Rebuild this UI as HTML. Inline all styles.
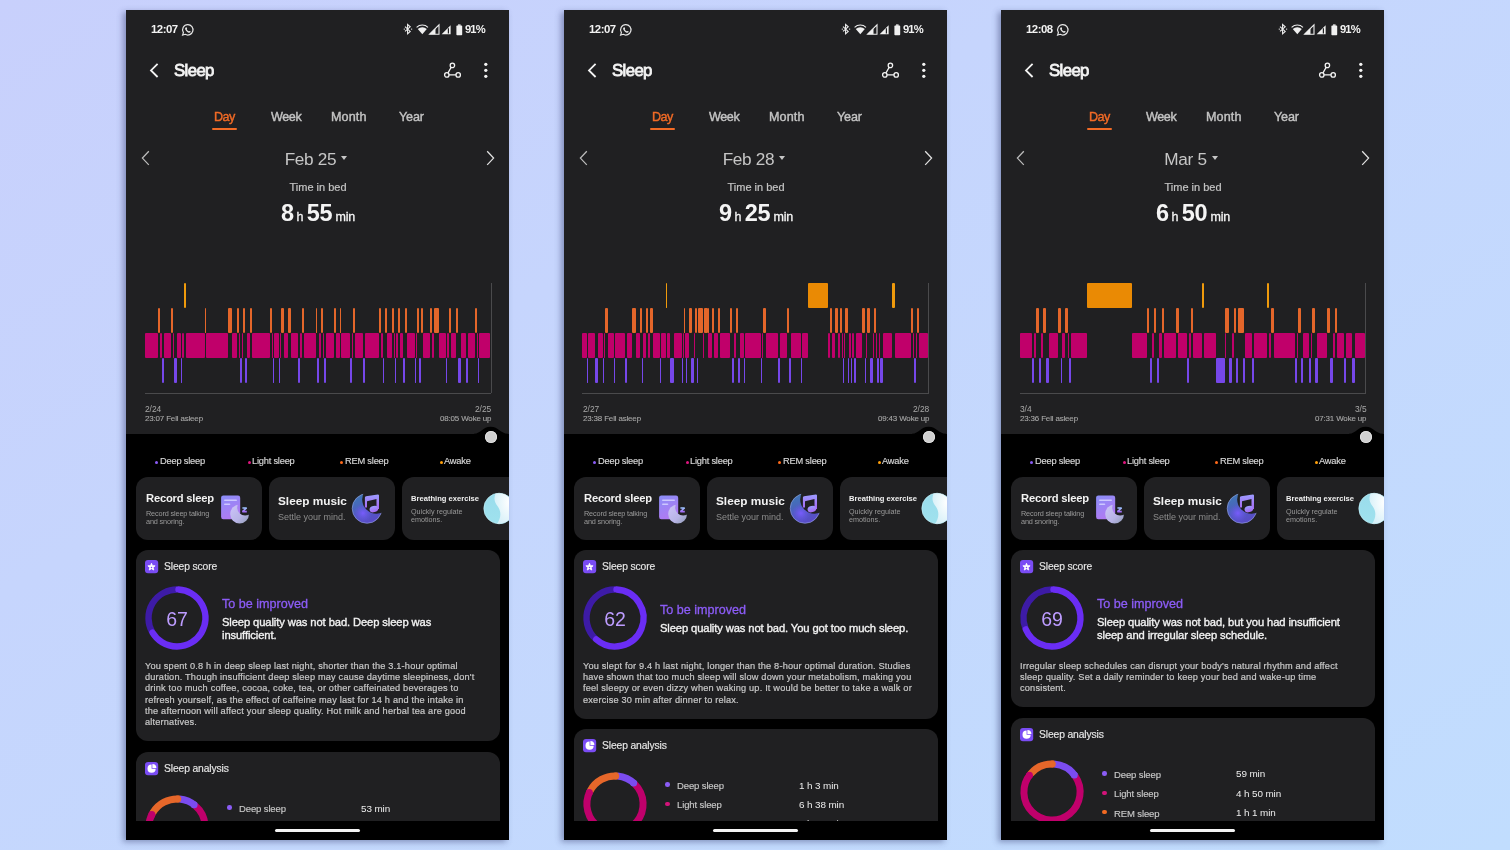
<!DOCTYPE html>
<html><head><meta charset="utf-8"><title>Sleep</title><style>
*{margin:0;padding:0;box-sizing:border-box}
html,body{width:1510px;height:850px;overflow:hidden}
body{background:linear-gradient(to bottom right,#c8d0fc 0%,#c6d5fd 35%,#c1ddfe 100%);font-family:"Liberation Sans",sans-serif;position:relative}
.ph{position:absolute;width:383px;height:830px;background:#000;overflow:hidden;box-shadow:-3px 2px 6px 0px rgba(50,60,110,0.45)}
.t{position:absolute;white-space:nowrap;will-change:transform}
.r{position:absolute}
.s{position:absolute;overflow:visible}
</style></head><body>
<div class="ph" style="left:126px;top:10px">
<div class="r" style="left:0.00px;top:0.00px;width:383.00px;height:423.70px;background:#202022;"></div>
<svg class="s" style="left:340.00px;top:410.00px;" width="43" height="16" viewBox="0 0 43 16"><path d="M8 13.75C15 13.75 16.5 6.8 24.6 6.8C32.7 6.8 34.2 13.75 42 13.75V16H8Z" fill="#000"/></svg>
<div class="t" style="left:24.50px;top:13.75px;font-size:11.4px;line-height:11.4px;color:#f2f2f2;font-weight:700;letter-spacing:-0.5px;">12:07</div>
<svg class="s" style="left:54.50px;top:12.50px;" width="14" height="14" viewBox="0 0 14 14"><path d="M6.8 1.6a5.2 5.2 0 1 1-2.6 9.7L1.6 12.1l0.8-2.5A5.2 5.2 0 0 1 6.8 1.6z" fill="none" stroke="#e8e8e8" stroke-width="1.2"/><path d="M4.7 4.6c0.3-0.4 0.8-0.4 1 0l0.4 0.9c0.1 0.3-0.3 0.6-0.4 0.8 0.4 0.9 1.1 1.6 2 2 0.2-0.2 0.5-0.5 0.8-0.4l0.9 0.4c0.4 0.2 0.4 0.7 0 1-0.6 0.6-1.5 0.6-2.4 0.1-1.1-0.6-2-1.5-2.6-2.6-0.4-0.8-0.4-1.7 0.3-2.2z" fill="#e8e8e8"/></svg>
<svg class="s" style="left:276.50px;top:13.00px;" width="10" height="12" viewBox="0 0 10 12"><path d="M2 3.6l5.2 4.8-2.6 2.4V1.4l2.6 2.4L2 8.4" fill="none" stroke="#f0f0f0" stroke-width="1.1"/><circle cx="1.3" cy="6.1" r="0.7" fill="#f0f0f0"/><circle cx="8.6" cy="6.1" r="0.7" fill="#f0f0f0"/></svg>
<svg class="s" style="left:289.50px;top:13.80px;" width="13" height="11" viewBox="0 0 13 11"><path d="M0.6 3.3A8.4 8.4 0 0 1 12.0 3.3" fill="none" stroke="#f0f0f0" stroke-width="1.1"/><path d="M1.8 4.9A6.8 6.8 0 0 1 10.8 4.9L6.3 10.3z" fill="#f0f0f0"/></svg>
<svg class="s" style="left:303.00px;top:13.80px;" width="11" height="11" viewBox="0 0 11 11"><path d="M0.6 10.2L10 0.8V10.2z" fill="none" stroke="#f0f0f0" stroke-width="1.1"/><path d="M0.6 10.2L6.5 4.3V10.2z" fill="#f0f0f0"/></svg>
<svg class="s" style="left:314.60px;top:13.80px;" width="11" height="11" viewBox="0 0 11 11"><path d="M0.6 10.2L9.6 1.2V10.2z" fill="#f0f0f0"/><path d="M7.4 4.2V9.4" stroke="#202022" stroke-width="1.2"/></svg>
<svg class="s" style="left:329.50px;top:13.60px;" width="7" height="12" viewBox="0 0 7 12"><rect x="2" y="0.4" width="2.6" height="1.4" fill="#f0f0f0"/><rect x="0.4" y="1.6" width="5.8" height="9.6" rx="0.8" fill="#f0f0f0"/></svg>
<div class="t" style="left:339.40px;top:14.12px;font-size:11.2px;line-height:11.2px;color:#f2f2f2;font-weight:700;letter-spacing:-0.9px;">91%</div>
<svg class="s" style="left:22.00px;top:52.00px;" width="13" height="17" viewBox="0 0 13 17"><path d="M9.6 1.8L3 8.4l6.6 6.6" fill="none" stroke="#f4f4f4" stroke-width="1.8"/></svg>
<div class="t" style="left:47.90px;top:53.38px;font-size:16.8px;line-height:16.8px;color:#f4f4f4;letter-spacing:-0.62px;-webkit-text-stroke:0.8px #f4f4f4;">Sleep</div>
<svg class="s" style="left:316.00px;top:51.00px;" width="20" height="18" viewBox="0 0 20 18"><circle cx="10.4" cy="4.4" r="2.2" fill="none" stroke="#f4f4f4" stroke-width="1.3"/><circle cx="4.8" cy="13.9" r="2.2" fill="none" stroke="#f4f4f4" stroke-width="1.3"/><circle cx="16.2" cy="13.9" r="2.2" fill="none" stroke="#f4f4f4" stroke-width="1.3"/><path d="M9.2 6.3L6 11.9M7 13.9H14" stroke="#f4f4f4" stroke-width="1.3"/></svg>
<svg class="s" style="left:356.00px;top:51.00px;" width="8" height="19" viewBox="0 0 8 19"><circle cx="3.8" cy="3.3" r="1.65" fill="#f4f4f4"/><circle cx="3.8" cy="9.3" r="1.65" fill="#f4f4f4"/><circle cx="3.8" cy="15.3" r="1.65" fill="#f4f4f4"/></svg>
<div class="t" style="left:88.40px;top:100.63px;font-size:12.6px;line-height:12.6px;color:#f26b26;letter-spacing:-0.5px;-webkit-text-stroke:0.4px #f26b26;">Day</div>
<div class="t" style="left:145.30px;top:100.63px;font-size:12.6px;line-height:12.6px;color:#c4c4c4;letter-spacing:-0.4px;-webkit-text-stroke:0.4px #c4c4c4;">Week</div>
<div class="t" style="left:204.50px;top:100.63px;font-size:12.6px;line-height:12.6px;color:#c4c4c4;letter-spacing:0.1px;-webkit-text-stroke:0.4px #c4c4c4;">Month</div>
<div class="t" style="left:272.50px;top:100.63px;font-size:12.6px;line-height:12.6px;color:#c4c4c4;letter-spacing:-0.15px;-webkit-text-stroke:0.4px #c4c4c4;">Year</div>
<div class="r" style="left:86.00px;top:118.30px;width:25.40px;height:2.00px;background:#f26b26;border-radius:1px"></div>
<svg class="s" style="left:13.00px;top:139.00px;" width="13" height="18" viewBox="0 0 13 18"><path d="M9.8 2.3L3.4 9.1l6.4 6.8" fill="none" stroke="#bdbdbd" stroke-width="1.25"/></svg>
<svg class="s" style="left:358.00px;top:139.00px;" width="13" height="18" viewBox="0 0 13 18"><path d="M3.2 2.3L9.6 9.1l-6.4 6.8" fill="none" stroke="#e2e2e2" stroke-width="1.25"/></svg>
<div class="t" style="left:90px;width:200px;top:141.04px;font-size:17.2px;line-height:17.2px;color:#c6c6c6;text-align:center;letter-spacing:-0.3px">Feb 25<span style="display:inline-block;width:0;height:0;border-left:3px solid transparent;border-right:3px solid transparent;border-top:4.2px solid #c6c6c6;margin-left:5px;vertical-align:4.6px"></span></div>
<div class="t" style="left:132.20px;width:120px;text-align:center;top:172.09px;font-size:11px;line-height:11px;color:#c4c4c4;-webkit-text-stroke:0.2px #c4c4c4;">Time in bed</div>
<div class="t" style="left:92px;width:200px;top:191.51px;font-size:23.5px;line-height:23.5px;color:#f4f4f4;text-align:center;font-weight:700;letter-spacing:-0.3px">8<span style="font-size:12.5px;font-weight:400;margin:0 3.2px 0 2.8px;letter-spacing:0;-webkit-text-stroke:0.3px #f4f4f4">h</span>55<span style="font-size:12.5px;font-weight:400;margin-left:3.2px;letter-spacing:-0.2px;-webkit-text-stroke:0.3px #f4f4f4">min</span></div>
<div class="t" style="left:18.90px;top:395.49px;font-size:8.4px;line-height:8.4px;color:#a8a8a8;letter-spacing:-0.05px;">2/24</div>
<div class="t" style="left:18.90px;top:405.17px;font-size:7.95px;line-height:7.95px;color:#a8a8a8;letter-spacing:-0.15px;-webkit-text-stroke:0.1px #a8a8a8;">23:07 Fell asleep</div>
<div class="t" style="right:17.80px;top:395.49px;font-size:8.4px;line-height:8.4px;color:#a8a8a8;text-align:right;letter-spacing:-0.05px;">2/25</div>
<div class="t" style="right:17.80px;top:405.17px;font-size:7.95px;line-height:7.95px;color:#a8a8a8;text-align:right;letter-spacing:-0.15px;-webkit-text-stroke:0.1px #a8a8a8;">08:05 Woke up</div>
<div class="r" style="left:18.90px;top:323.10px;width:13.25px;height:25.30px;background:#c0006a;border-radius:1px"></div>
<div class="r" style="left:33.65px;top:323.10px;width:2.30px;height:25.30px;background:#c0006a;border-radius:1px"></div>
<div class="r" style="left:38.25px;top:323.10px;width:6.50px;height:25.30px;background:#c0006a;border-radius:1px"></div>
<div class="r" style="left:46.65px;top:323.10px;width:1.70px;height:25.30px;background:#c0006a;border-radius:1px"></div>
<div class="r" style="left:50.95px;top:323.10px;width:4.10px;height:25.30px;background:#c0006a;border-radius:1px"></div>
<div class="r" style="left:56.25px;top:323.10px;width:1.80px;height:25.30px;background:#c0006a;border-radius:1px"></div>
<div class="r" style="left:59.95px;top:323.10px;width:18.70px;height:25.30px;background:#c0006a;border-radius:1px"></div>
<div class="r" style="left:80.25px;top:323.10px;width:21.60px;height:25.30px;background:#c0006a;border-radius:1px"></div>
<div class="r" style="left:105.95px;top:323.10px;width:5.10px;height:25.30px;background:#c0006a;border-radius:1px"></div>
<div class="r" style="left:113.05px;top:323.10px;width:1.20px;height:25.30px;background:#c0006a;border-radius:1px"></div>
<div class="r" style="left:116.15px;top:323.10px;width:1.20px;height:25.30px;background:#c0006a;border-radius:1px"></div>
<div class="r" style="left:121.05px;top:323.10px;width:2.70px;height:25.30px;background:#c0006a;border-radius:1px"></div>
<div class="r" style="left:125.75px;top:323.10px;width:18.20px;height:25.30px;background:#c0006a;border-radius:1px"></div>
<div class="r" style="left:145.75px;top:323.10px;width:0.85px;height:25.30px;background:#c0006a;border-radius:1px"></div>
<div class="r" style="left:147.60px;top:323.10px;width:5.05px;height:25.30px;background:#c0006a;border-radius:1px"></div>
<div class="r" style="left:153.95px;top:323.10px;width:1.50px;height:25.30px;background:#c0006a;border-radius:1px"></div>
<div class="r" style="left:157.75px;top:323.10px;width:4.10px;height:25.30px;background:#c0006a;border-radius:1px"></div>
<div class="r" style="left:164.95px;top:323.10px;width:7.10px;height:25.30px;background:#c0006a;border-radius:1px"></div>
<div class="r" style="left:173.75px;top:323.10px;width:2.20px;height:25.30px;background:#c0006a;border-radius:1px"></div>
<div class="r" style="left:177.65px;top:323.10px;width:12.00px;height:25.30px;background:#c0006a;border-radius:1px"></div>
<div class="r" style="left:193.15px;top:323.10px;width:1.90px;height:25.30px;background:#c0006a;border-radius:1px"></div>
<div class="r" style="left:196.95px;top:323.10px;width:0.90px;height:25.30px;background:#c0006a;border-radius:1px"></div>
<div class="r" style="left:199.75px;top:323.10px;width:8.00px;height:25.30px;background:#c0006a;border-radius:1px"></div>
<div class="r" style="left:210.05px;top:323.10px;width:3.60px;height:25.30px;background:#c0006a;border-radius:1px"></div>
<div class="r" style="left:215.25px;top:323.10px;width:9.00px;height:25.30px;background:#c0006a;border-radius:1px"></div>
<div class="r" style="left:225.95px;top:323.10px;width:1.10px;height:25.30px;background:#c0006a;border-radius:1px"></div>
<div class="r" style="left:228.85px;top:323.10px;width:8.50px;height:25.30px;background:#c0006a;border-radius:1px"></div>
<div class="r" style="left:238.95px;top:323.10px;width:13.90px;height:25.30px;background:#c0006a;border-radius:1px"></div>
<div class="r" style="left:254.75px;top:323.10px;width:1.90px;height:25.30px;background:#c0006a;border-radius:1px"></div>
<div class="r" style="left:261.25px;top:323.10px;width:4.60px;height:25.30px;background:#c0006a;border-radius:1px"></div>
<div class="r" style="left:267.85px;top:323.10px;width:1.45px;height:25.30px;background:#c0006a;border-radius:1px"></div>
<div class="r" style="left:270.30px;top:323.10px;width:1.85px;height:25.30px;background:#c0006a;border-radius:1px"></div>
<div class="r" style="left:274.35px;top:323.10px;width:2.50px;height:25.30px;background:#c0006a;border-radius:1px"></div>
<div class="r" style="left:280.55px;top:323.10px;width:8.30px;height:25.30px;background:#c0006a;border-radius:1px"></div>
<div class="r" style="left:289.95px;top:323.10px;width:1.00px;height:25.30px;background:#c0006a;border-radius:1px"></div>
<div class="r" style="left:296.95px;top:323.10px;width:7.40px;height:25.30px;background:#c0006a;border-radius:1px"></div>
<div class="r" style="left:306.35px;top:323.10px;width:1.50px;height:25.30px;background:#c0006a;border-radius:1px"></div>
<div class="r" style="left:313.05px;top:323.10px;width:6.60px;height:25.30px;background:#c0006a;border-radius:1px"></div>
<div class="r" style="left:321.45px;top:323.10px;width:2.00px;height:25.30px;background:#c0006a;border-radius:1px"></div>
<div class="r" style="left:325.15px;top:323.10px;width:4.90px;height:25.30px;background:#c0006a;border-radius:1px"></div>
<div class="r" style="left:334.65px;top:323.10px;width:5.30px;height:25.30px;background:#c0006a;border-radius:1px"></div>
<div class="r" style="left:341.85px;top:323.10px;width:7.40px;height:25.30px;background:#c0006a;border-radius:1px"></div>
<div class="r" style="left:351.15px;top:323.10px;width:0.50px;height:25.30px;background:#c0006a;border-radius:1px"></div>
<div class="r" style="left:352.95px;top:323.10px;width:11.55px;height:25.30px;background:#c0006a;border-radius:1px"></div>
<div class="r" style="left:32.10px;top:298.00px;width:1.60px;height:25.10px;background:#e4662a;border-radius:1px"></div>
<div class="r" style="left:35.90px;top:348.40px;width:2.40px;height:25.10px;background:#7647ea;border-radius:1px"></div>
<div class="r" style="left:44.70px;top:298.00px;width:2.00px;height:25.10px;background:#e4662a;border-radius:1px"></div>
<div class="r" style="left:48.30px;top:348.40px;width:2.70px;height:25.10px;background:#7647ea;border-radius:1px"></div>
<div class="r" style="left:55.00px;top:348.40px;width:1.30px;height:25.10px;background:#7647ea;border-radius:1px"></div>
<div class="r" style="left:58.00px;top:272.60px;width:2.00px;height:25.40px;background:#ef9a0c;border-radius:1px"></div>
<div class="r" style="left:78.60px;top:298.00px;width:1.70px;height:25.10px;background:#e4662a;border-radius:1px"></div>
<div class="r" style="left:101.80px;top:298.00px;width:4.20px;height:25.10px;background:#e4662a;border-radius:1px"></div>
<div class="r" style="left:111.00px;top:298.00px;width:2.10px;height:25.10px;background:#e4662a;border-radius:1px"></div>
<div class="r" style="left:114.20px;top:348.40px;width:2.00px;height:25.10px;background:#7647ea;border-radius:1px"></div>
<div class="r" style="left:117.30px;top:298.00px;width:1.90px;height:25.10px;background:#e4662a;border-radius:1px"></div>
<div class="r" style="left:119.20px;top:348.40px;width:1.90px;height:25.10px;background:#7647ea;border-radius:1px"></div>
<div class="r" style="left:123.70px;top:298.00px;width:2.10px;height:25.10px;background:#e4662a;border-radius:1px"></div>
<div class="r" style="left:143.90px;top:298.00px;width:1.90px;height:25.10px;background:#e4662a;border-radius:1px"></div>
<div class="r" style="left:146.60px;top:348.40px;width:1.00px;height:25.10px;background:#7647ea;border-radius:1px"></div>
<div class="r" style="left:152.60px;top:348.40px;width:1.40px;height:25.10px;background:#7647ea;border-radius:1px"></div>
<div class="r" style="left:155.40px;top:298.00px;width:2.40px;height:25.10px;background:#e4662a;border-radius:1px"></div>
<div class="r" style="left:161.80px;top:298.00px;width:3.20px;height:25.10px;background:#e4662a;border-radius:1px"></div>
<div class="r" style="left:172.00px;top:348.40px;width:1.80px;height:25.10px;background:#7647ea;border-radius:1px"></div>
<div class="r" style="left:175.90px;top:298.00px;width:1.80px;height:25.10px;background:#e4662a;border-radius:1px"></div>
<div class="r" style="left:189.60px;top:298.00px;width:1.20px;height:25.10px;background:#e4662a;border-radius:1px"></div>
<div class="r" style="left:191.00px;top:348.40px;width:2.20px;height:25.10px;background:#7647ea;border-radius:1px"></div>
<div class="r" style="left:195.00px;top:298.00px;width:2.00px;height:25.10px;background:#e4662a;border-radius:1px"></div>
<div class="r" style="left:197.80px;top:348.40px;width:2.00px;height:25.10px;background:#7647ea;border-radius:1px"></div>
<div class="r" style="left:207.70px;top:298.00px;width:2.40px;height:25.10px;background:#e4662a;border-radius:1px"></div>
<div class="r" style="left:213.60px;top:298.00px;width:1.70px;height:25.10px;background:#e4662a;border-radius:1px"></div>
<div class="r" style="left:224.20px;top:348.40px;width:1.80px;height:25.10px;background:#7647ea;border-radius:1px"></div>
<div class="r" style="left:227.00px;top:298.00px;width:1.90px;height:25.10px;background:#e4662a;border-radius:1px"></div>
<div class="r" style="left:237.30px;top:348.40px;width:1.70px;height:25.10px;background:#7647ea;border-radius:1px"></div>
<div class="r" style="left:252.80px;top:298.00px;width:2.00px;height:25.10px;background:#e4662a;border-radius:1px"></div>
<div class="r" style="left:256.60px;top:348.40px;width:1.90px;height:25.10px;background:#7647ea;border-radius:1px"></div>
<div class="r" style="left:258.50px;top:298.00px;width:2.80px;height:25.10px;background:#e4662a;border-radius:1px"></div>
<div class="r" style="left:265.80px;top:298.00px;width:2.10px;height:25.10px;background:#e4662a;border-radius:1px"></div>
<div class="r" style="left:269.30px;top:348.40px;width:1.00px;height:25.10px;background:#7647ea;border-radius:1px"></div>
<div class="r" style="left:272.10px;top:298.00px;width:2.30px;height:25.10px;background:#e4662a;border-radius:1px"></div>
<div class="r" style="left:276.80px;top:348.40px;width:1.80px;height:25.10px;background:#7647ea;border-radius:1px"></div>
<div class="r" style="left:278.60px;top:298.00px;width:2.00px;height:25.10px;background:#e4662a;border-radius:1px"></div>
<div class="r" style="left:288.80px;top:348.40px;width:1.20px;height:25.10px;background:#7647ea;border-radius:1px"></div>
<div class="r" style="left:290.90px;top:298.00px;width:2.10px;height:25.10px;background:#e4662a;border-radius:1px"></div>
<div class="r" style="left:293.00px;top:348.40px;width:2.10px;height:25.10px;background:#7647ea;border-radius:1px"></div>
<div class="r" style="left:295.10px;top:298.00px;width:1.90px;height:25.10px;background:#e4662a;border-radius:1px"></div>
<div class="r" style="left:304.30px;top:298.00px;width:2.10px;height:25.10px;background:#e4662a;border-radius:1px"></div>
<div class="r" style="left:307.80px;top:298.00px;width:5.30px;height:25.10px;background:#e4662a;border-radius:1px"></div>
<div class="r" style="left:319.60px;top:348.40px;width:1.90px;height:25.10px;background:#7647ea;border-radius:1px"></div>
<div class="r" style="left:323.40px;top:298.00px;width:1.80px;height:25.10px;background:#e4662a;border-radius:1px"></div>
<div class="r" style="left:330.00px;top:298.00px;width:2.00px;height:25.10px;background:#e4662a;border-radius:1px"></div>
<div class="r" style="left:332.00px;top:348.40px;width:2.70px;height:25.10px;background:#7647ea;border-radius:1px"></div>
<div class="r" style="left:339.90px;top:348.40px;width:2.00px;height:25.10px;background:#7647ea;border-radius:1px"></div>
<div class="r" style="left:349.20px;top:298.00px;width:2.00px;height:25.10px;background:#e4662a;border-radius:1px"></div>
<div class="r" style="left:351.60px;top:348.40px;width:1.40px;height:25.10px;background:#7647ea;border-radius:1px"></div>
<div class="r" style="left:18.90px;top:382.60px;width:346.10px;height:1.00px;background:#4a4a4c;"></div>
<div class="r" style="left:364.50px;top:272.60px;width:1.00px;height:110.50px;background:#4a4a4c;"></div>
<div class="r" style="left:358.80px;top:420.60px;width:12.2px;height:12.2px;border-radius:50%;background:#d0d0d0;box-shadow:inset 0 0 0 0.8px #e4e4e4"></div>
<div class="r" style="left:29.30px;top:451.30px;width:3.2px;height:3.2px;border-radius:50%;background:#8b5cf6"></div>
<div class="t" style="left:33.80px;top:446.83px;font-size:9.3px;line-height:9.3px;color:#d8d8d8;letter-spacing:-0.22px;-webkit-text-stroke:0.15px #d8d8d8;">Deep sleep</div>
<div class="r" style="left:121.60px;top:451.30px;width:3.2px;height:3.2px;border-radius:50%;background:#e0157f"></div>
<div class="t" style="left:126.00px;top:446.83px;font-size:9.3px;line-height:9.3px;color:#d8d8d8;letter-spacing:-0.22px;-webkit-text-stroke:0.15px #d8d8d8;">Light sleep</div>
<div class="r" style="left:214.00px;top:451.30px;width:3.2px;height:3.2px;border-radius:50%;background:#ff6a1a"></div>
<div class="t" style="left:218.50px;top:446.83px;font-size:9.3px;line-height:9.3px;color:#d8d8d8;letter-spacing:-0.22px;-webkit-text-stroke:0.15px #d8d8d8;">REM sleep</div>
<div class="r" style="left:313.80px;top:451.30px;width:3.2px;height:3.2px;border-radius:50%;background:#ffa00a"></div>
<div class="t" style="left:318.00px;top:446.83px;font-size:9.3px;line-height:9.3px;color:#d8d8d8;letter-spacing:-0.22px;-webkit-text-stroke:0.15px #d8d8d8;">Awake</div>
<div class="r" style="left:9.90px;top:467.00px;width:126.00px;height:62.70px;background:#202022;border-radius:12px"></div>
<div class="r" style="left:142.90px;top:467.00px;width:126.00px;height:62.70px;background:#202022;border-radius:12px"></div>
<div class="r" style="left:275.60px;top:467.00px;width:126.00px;height:62.70px;background:#202022;border-radius:12px"></div>
<div class="t" style="left:19.60px;top:483.32px;font-size:11.2px;line-height:11.2px;color:#f2f2f2;font-weight:700;letter-spacing:-0.2px;">Record sleep</div>
<div class="t" style="left:19.60px;top:499.72px;font-size:7.3px;line-height:7.3px;color:#9a9a9a;letter-spacing:-0.15px;">Record sleep talking</div>
<div class="t" style="left:19.60px;top:507.92px;font-size:7.3px;line-height:7.3px;color:#9a9a9a;letter-spacing:-0.15px;">and snoring.</div>
<svg class="s" style="left:93.00px;top:483.00px;" width="32" height="32" viewBox="0 0 32 32"><defs><linearGradient id="nb" x1="0" y1="0" x2="0.4" y2="1"><stop offset="0" stop-color="#8a8ef8"/><stop offset="1" stop-color="#b07af2"/></linearGradient><linearGradient id="mn" x1="0" y1="0" x2="1" y2="1"><stop offset="0" stop-color="#cdc4fa"/><stop offset="0.6" stop-color="#b8b4e6"/><stop offset="1" stop-color="#8f9cb4"/></linearGradient><linearGradient id="zz" x1="0" y1="0" x2="0" y2="1"><stop offset="0" stop-color="#9cc4ff"/><stop offset="1" stop-color="#a46cf6"/></linearGradient><mask id="mcut"><rect width="32" height="32" fill="#fff"/><circle cx="26.2" cy="14.6" r="8" fill="#000"/></mask></defs><rect x="2.1" y="2.5" width="19.1" height="23.7" rx="2.2" fill="url(#nb)"/><rect x="5" y="6.4" width="13" height="1.6" rx="0.8" fill="#cdc8ff"/><rect x="5" y="10.4" width="6.3" height="1.6" rx="0.8" fill="#cdc8ff"/><circle cx="20.6" cy="21" r="9.4" fill="url(#mn)" mask="url(#mcut)"/><path d="M23.4 15H27.6L23.4 18.6H27.8" fill="none" stroke="url(#zz)" stroke-width="1.6" stroke-linejoin="bevel"/></svg>
<div class="t" style="left:152.20px;top:485.61px;font-size:11.8px;line-height:11.8px;color:#f2f2f2;font-weight:700;letter-spacing:0px;">Sleep music</div>
<div class="t" style="left:152.20px;top:502.98px;font-size:9.0px;line-height:9.0px;color:#8c8c8c;">Settle your mind.</div>
<svg class="s" style="left:224.00px;top:482.00px;" width="34" height="34" viewBox="0 0 34 34"><defs><linearGradient id="mgl" x1="0.2" y1="0" x2="0.6" y2="1"><stop offset="0" stop-color="#3d7ab4"/><stop offset="0.55" stop-color="#4f5cc0"/><stop offset="1" stop-color="#5a4ac8"/></linearGradient><radialGradient id="mg" cx="0.36" cy="0.66" r="0.32"><stop offset="0" stop-color="#7a5cff" stop-opacity="0.95"/><stop offset="1" stop-color="#6a54e8" stop-opacity="0"/></radialGradient><linearGradient id="nt" x1="0" y1="0" x2="0" y2="1"><stop offset="0" stop-color="#9c9cff"/><stop offset="1" stop-color="#a866f2"/></linearGradient><mask id="mcut2"><rect width="34" height="34" fill="#fff"/><circle cx="26.6" cy="7.4" r="14.4" fill="#000"/></mask></defs><g mask="url(#mcut2)"><circle cx="17" cy="16.5" r="14.8" fill="url(#mgl)" stroke="#9aa8e8" stroke-width="0.6"/><circle cx="17" cy="16.5" r="14.5" fill="url(#mg)"/></g><path d="M14.9 5.6Q14.9 4.6 16 4.3L27.8 2.4Q29 2.3 29 3.4V17h-2.5V6.9L17 9.2V15.5H14.9Z" fill="url(#nt)"/><ellipse cx="23.9" cy="17.1" rx="4.4" ry="3.1" transform="rotate(-15 23.9 17.1)" fill="url(#nt)"/></svg>
<div class="t" style="left:284.70px;top:485.07px;font-size:7.6px;line-height:7.6px;color:#f0f0f0;font-weight:700;letter-spacing:0px;">Breathing exercise</div>
<div class="t" style="left:284.70px;top:497.71px;font-size:7.2px;line-height:7.2px;color:#999999;">Quickly regulate</div>
<div class="t" style="left:284.70px;top:505.51px;font-size:7.2px;line-height:7.2px;color:#999999;">emotions.</div>
<svg class="s" style="left:357.00px;top:481.50px;" width="32" height="33" viewBox="0 0 32 33"><defs><linearGradient id="bg3" x1="0" y1="0" x2="0" y2="1"><stop offset="0" stop-color="#9adcec"/><stop offset="1" stop-color="#9fe2ee"/></linearGradient><radialGradient id="wh" cx="0.75" cy="0.3" r="0.8"><stop offset="0" stop-color="#ffffff"/><stop offset="1" stop-color="#d6f0f8"/></radialGradient></defs><circle cx="16.1" cy="16.5" r="15.3" fill="url(#bg3)" stroke="#c8f4fc" stroke-width="0.6"/><path d="M12.5 1.5C10.5 7 11.5 10.5 14.8 14.6C18.4 19.2 18.2 26 14 31.7A15.3 15.3 0 1 0 12.5 1.5Z" fill="url(#wh)"/></svg>
<div class="r" style="left:10.00px;top:539.60px;width:364.00px;height:191.70px;background:#202022;border-radius:12px"></div>
<svg class="s" style="left:19.20px;top:550.00px;" width="13.2" height="13.2" viewBox="0 0 13.2 13.2"><rect x="0" y="0" width="13.2" height="13.2" rx="3" fill="#7a4cf4"/><g transform="translate(6.5 7.0) scale(0.86)"><path d="M0 -4.3L1.15 -1.5L4.2 -1.35L1.85 0.6L2.65 3.55L0 1.9L-2.65 3.55L-1.85 0.6L-4.2 -1.35L-1.15 -1.5Z" fill="#fff" stroke="#fff" stroke-width="1.0" stroke-linejoin="round"/><circle cx="0" cy="0.5" r="0.9" fill="#7a4cf4"/></g></svg>
<div class="t" style="left:38.40px;top:551.88px;font-size:10.3px;line-height:10.3px;color:#e6e6e6;letter-spacing:-0.12px;-webkit-text-stroke:0.15px #e6e6e6;">Sleep score</div>
<svg class="s" style="left:18.10px;top:575.40px;" width="66" height="66" viewBox="0 0 66 66"><path d="M8.03 46.73A28.5 28.5 0 0 1 33.00 4.50" fill="none" stroke="#3d1ba6" stroke-width="6.4"/><path d="M34.49 4.54A28.5 28.5 0 1 1 8.52 47.59" fill="none" stroke="#6a2df4" stroke-width="6.4" stroke-linecap="round"/></svg>
<div class="t" style="left:26.10px;width:50px;text-align:center;top:599.69px;font-size:19.5px;line-height:19.5px;color:#bd9cff;">67</div>
<div class="t" style="left:95.80px;top:587.83px;font-size:12.6px;line-height:12.6px;color:#8c5cf7;letter-spacing:0.0px;-webkit-text-stroke:0.3px #8c5cf7;">To be improved</div>
<div class="t" style="left:95.80px;top:607.12px;font-size:11.2px;line-height:11.2px;color:#f2f2f2;letter-spacing:-0.1px;-webkit-text-stroke:0.35px #f2f2f2;">Sleep quality was not bad. Deep sleep was</div>
<div class="t" style="left:95.80px;top:620.22px;font-size:11.2px;line-height:11.2px;color:#f2f2f2;letter-spacing:-0.1px;-webkit-text-stroke:0.35px #f2f2f2;">insufficient.</div>
<div class="t" style="left:19.40px;top:652.01px;font-size:9.2px;line-height:9.2px;color:#c8c8c8;letter-spacing:0.19px;-webkit-text-stroke:0.2px #c8c8c8;">You spent 0.8 h in deep sleep last night, shorter than the 3.1-hour optimal</div>
<div class="t" style="left:19.40px;top:663.25px;font-size:9.2px;line-height:9.2px;color:#c8c8c8;letter-spacing:0.19px;-webkit-text-stroke:0.2px #c8c8c8;">duration. Though insufficient deep sleep may cause daytime sleepiness, don't</div>
<div class="t" style="left:19.40px;top:674.49px;font-size:9.2px;line-height:9.2px;color:#c8c8c8;letter-spacing:0.19px;-webkit-text-stroke:0.2px #c8c8c8;">drink too much coffee, cocoa, coke, tea, or other caffeinated beverages to</div>
<div class="t" style="left:19.40px;top:685.73px;font-size:9.2px;line-height:9.2px;color:#c8c8c8;letter-spacing:0.19px;-webkit-text-stroke:0.2px #c8c8c8;">refresh yourself, as the effect of caffeine may last for 14 h and the intake in</div>
<div class="t" style="left:19.40px;top:696.97px;font-size:9.2px;line-height:9.2px;color:#c8c8c8;letter-spacing:0.19px;-webkit-text-stroke:0.2px #c8c8c8;">the afternoon will affect your sleep quality. Hot milk and herbal tea are good</div>
<div class="t" style="left:19.40px;top:708.21px;font-size:9.2px;line-height:9.2px;color:#c8c8c8;letter-spacing:0.19px;-webkit-text-stroke:0.2px #c8c8c8;">alternatives.</div>
<div class="r" style="left:10.00px;top:741.90px;width:364.00px;height:120.00px;background:#202022;border-radius:12px"></div>
<svg class="s" style="left:19.20px;top:752.20px;" width="13.2" height="13.2" viewBox="0 0 13.2 13.2"><rect x="0" y="0" width="13.2" height="13.2" rx="3" fill="#7a4cf4"/><path d="M6.6 2.6A4.1 4.1 0 1 0 10.7 6.7H6.6Z" fill="#fff"/><path d="M7.4 1.9A4.1 4.1 0 0 1 11.4 5.9H7.4Z" fill="#fff"/></svg>
<div class="t" style="left:38.30px;top:753.78px;font-size:10.3px;line-height:10.3px;color:#e6e6e6;letter-spacing:-0.12px;-webkit-text-stroke:0.15px #e6e6e6;">Sleep analysis</div>
<svg class="s" style="left:17.90px;top:783.50px;" width="66" height="66" viewBox="0 0 66 66"><path d="M35.45 5.01A28.1 28.1 0 0 1 51.44 11.79" fill="none" stroke="#7b4cf0" stroke-width="7"/><path d="M51.44 11.79A28.1 28.1 0 1 1 8.66 18.95" fill="none" stroke="#c0006b" stroke-width="7"/><path d="M8.66 18.95A28.1 28.1 0 0 1 35.45 5.01" fill="none" stroke="#e6672a" stroke-width="7"/><circle cx="50.11" cy="10.71" r="3.5" fill="#7b4cf0"/><circle cx="7.85" cy="20.46" r="3.5" fill="#c0006b"/><circle cx="33.74" cy="4.91" r="3.5" fill="#e6672a"/></svg>
<div class="r" style="left:101.40px;top:795.20px;width:4.6px;height:4.6px;border-radius:50%;background:#8b5cf6"></div>
<div class="t" style="left:112.50px;top:793.86px;font-size:9.5px;line-height:9.5px;color:#c8c8c8;letter-spacing:-0.12px;-webkit-text-stroke:0.15px #c8c8c8;">Deep sleep</div>
<div class="t" style="left:235.30px;top:793.52px;font-size:9.9px;line-height:9.9px;color:#ececec;letter-spacing:-0.1px;">53 min</div>
<div class="r" style="left:101.40px;top:814.60px;width:4.6px;height:4.6px;border-radius:50%;background:#d4137a"></div>
<div class="t" style="left:112.50px;top:813.26px;font-size:9.5px;line-height:9.5px;color:#c8c8c8;letter-spacing:-0.12px;-webkit-text-stroke:0.15px #c8c8c8;">Light sleep</div>
<div class="t" style="left:235.30px;top:812.92px;font-size:9.9px;line-height:9.9px;color:#ececec;letter-spacing:-0.1px;">5 h 42 min</div>
<div class="r" style="left:101.40px;top:834.00px;width:4.6px;height:4.6px;border-radius:50%;background:#f26a22"></div>
<div class="t" style="left:112.50px;top:832.66px;font-size:9.5px;line-height:9.5px;color:#c8c8c8;letter-spacing:-0.12px;-webkit-text-stroke:0.15px #c8c8c8;">REM sleep</div>
<div class="t" style="left:235.30px;top:832.32px;font-size:9.9px;line-height:9.9px;color:#ececec;letter-spacing:-0.1px;">1 h 48 min</div>
<div class="r" style="left:0.00px;top:810.60px;width:383.00px;height:19.40px;background:#000;"></div>
<div class="r" style="left:149.30px;top:819.40px;width:85.00px;height:2.90px;background:#f4f4f4;border-radius:1.5px"></div>
</div>
<div class="ph" style="left:564px;top:10px">
<div class="r" style="left:0.00px;top:0.00px;width:383.00px;height:423.70px;background:#202022;"></div>
<svg class="s" style="left:340.00px;top:410.00px;" width="43" height="16" viewBox="0 0 43 16"><path d="M8 13.75C15 13.75 16.5 6.8 24.6 6.8C32.7 6.8 34.2 13.75 42 13.75V16H8Z" fill="#000"/></svg>
<div class="t" style="left:24.50px;top:13.75px;font-size:11.4px;line-height:11.4px;color:#f2f2f2;font-weight:700;letter-spacing:-0.5px;">12:07</div>
<svg class="s" style="left:54.50px;top:12.50px;" width="14" height="14" viewBox="0 0 14 14"><path d="M6.8 1.6a5.2 5.2 0 1 1-2.6 9.7L1.6 12.1l0.8-2.5A5.2 5.2 0 0 1 6.8 1.6z" fill="none" stroke="#e8e8e8" stroke-width="1.2"/><path d="M4.7 4.6c0.3-0.4 0.8-0.4 1 0l0.4 0.9c0.1 0.3-0.3 0.6-0.4 0.8 0.4 0.9 1.1 1.6 2 2 0.2-0.2 0.5-0.5 0.8-0.4l0.9 0.4c0.4 0.2 0.4 0.7 0 1-0.6 0.6-1.5 0.6-2.4 0.1-1.1-0.6-2-1.5-2.6-2.6-0.4-0.8-0.4-1.7 0.3-2.2z" fill="#e8e8e8"/></svg>
<svg class="s" style="left:276.50px;top:13.00px;" width="10" height="12" viewBox="0 0 10 12"><path d="M2 3.6l5.2 4.8-2.6 2.4V1.4l2.6 2.4L2 8.4" fill="none" stroke="#f0f0f0" stroke-width="1.1"/><circle cx="1.3" cy="6.1" r="0.7" fill="#f0f0f0"/><circle cx="8.6" cy="6.1" r="0.7" fill="#f0f0f0"/></svg>
<svg class="s" style="left:289.50px;top:13.80px;" width="13" height="11" viewBox="0 0 13 11"><path d="M0.6 3.3A8.4 8.4 0 0 1 12.0 3.3" fill="none" stroke="#f0f0f0" stroke-width="1.1"/><path d="M1.8 4.9A6.8 6.8 0 0 1 10.8 4.9L6.3 10.3z" fill="#f0f0f0"/></svg>
<svg class="s" style="left:303.00px;top:13.80px;" width="11" height="11" viewBox="0 0 11 11"><path d="M0.6 10.2L10 0.8V10.2z" fill="none" stroke="#f0f0f0" stroke-width="1.1"/><path d="M0.6 10.2L6.5 4.3V10.2z" fill="#f0f0f0"/></svg>
<svg class="s" style="left:314.60px;top:13.80px;" width="11" height="11" viewBox="0 0 11 11"><path d="M0.6 10.2L9.6 1.2V10.2z" fill="#f0f0f0"/><path d="M7.4 4.2V9.4" stroke="#202022" stroke-width="1.2"/></svg>
<svg class="s" style="left:329.50px;top:13.60px;" width="7" height="12" viewBox="0 0 7 12"><rect x="2" y="0.4" width="2.6" height="1.4" fill="#f0f0f0"/><rect x="0.4" y="1.6" width="5.8" height="9.6" rx="0.8" fill="#f0f0f0"/></svg>
<div class="t" style="left:339.40px;top:14.12px;font-size:11.2px;line-height:11.2px;color:#f2f2f2;font-weight:700;letter-spacing:-0.9px;">91%</div>
<svg class="s" style="left:22.00px;top:52.00px;" width="13" height="17" viewBox="0 0 13 17"><path d="M9.6 1.8L3 8.4l6.6 6.6" fill="none" stroke="#f4f4f4" stroke-width="1.8"/></svg>
<div class="t" style="left:47.90px;top:53.38px;font-size:16.8px;line-height:16.8px;color:#f4f4f4;letter-spacing:-0.62px;-webkit-text-stroke:0.8px #f4f4f4;">Sleep</div>
<svg class="s" style="left:316.00px;top:51.00px;" width="20" height="18" viewBox="0 0 20 18"><circle cx="10.4" cy="4.4" r="2.2" fill="none" stroke="#f4f4f4" stroke-width="1.3"/><circle cx="4.8" cy="13.9" r="2.2" fill="none" stroke="#f4f4f4" stroke-width="1.3"/><circle cx="16.2" cy="13.9" r="2.2" fill="none" stroke="#f4f4f4" stroke-width="1.3"/><path d="M9.2 6.3L6 11.9M7 13.9H14" stroke="#f4f4f4" stroke-width="1.3"/></svg>
<svg class="s" style="left:356.00px;top:51.00px;" width="8" height="19" viewBox="0 0 8 19"><circle cx="3.8" cy="3.3" r="1.65" fill="#f4f4f4"/><circle cx="3.8" cy="9.3" r="1.65" fill="#f4f4f4"/><circle cx="3.8" cy="15.3" r="1.65" fill="#f4f4f4"/></svg>
<div class="t" style="left:88.40px;top:100.63px;font-size:12.6px;line-height:12.6px;color:#f26b26;letter-spacing:-0.5px;-webkit-text-stroke:0.4px #f26b26;">Day</div>
<div class="t" style="left:145.30px;top:100.63px;font-size:12.6px;line-height:12.6px;color:#c4c4c4;letter-spacing:-0.4px;-webkit-text-stroke:0.4px #c4c4c4;">Week</div>
<div class="t" style="left:204.50px;top:100.63px;font-size:12.6px;line-height:12.6px;color:#c4c4c4;letter-spacing:0.1px;-webkit-text-stroke:0.4px #c4c4c4;">Month</div>
<div class="t" style="left:272.50px;top:100.63px;font-size:12.6px;line-height:12.6px;color:#c4c4c4;letter-spacing:-0.15px;-webkit-text-stroke:0.4px #c4c4c4;">Year</div>
<div class="r" style="left:86.00px;top:118.30px;width:25.40px;height:2.00px;background:#f26b26;border-radius:1px"></div>
<svg class="s" style="left:13.00px;top:139.00px;" width="13" height="18" viewBox="0 0 13 18"><path d="M9.8 2.3L3.4 9.1l6.4 6.8" fill="none" stroke="#bdbdbd" stroke-width="1.25"/></svg>
<svg class="s" style="left:358.00px;top:139.00px;" width="13" height="18" viewBox="0 0 13 18"><path d="M3.2 2.3L9.6 9.1l-6.4 6.8" fill="none" stroke="#e2e2e2" stroke-width="1.25"/></svg>
<div class="t" style="left:90px;width:200px;top:141.04px;font-size:17.2px;line-height:17.2px;color:#c6c6c6;text-align:center;letter-spacing:-0.3px">Feb 28<span style="display:inline-block;width:0;height:0;border-left:3px solid transparent;border-right:3px solid transparent;border-top:4.2px solid #c6c6c6;margin-left:5px;vertical-align:4.6px"></span></div>
<div class="t" style="left:132.20px;width:120px;text-align:center;top:172.09px;font-size:11px;line-height:11px;color:#c4c4c4;-webkit-text-stroke:0.2px #c4c4c4;">Time in bed</div>
<div class="t" style="left:92px;width:200px;top:191.51px;font-size:23.5px;line-height:23.5px;color:#f4f4f4;text-align:center;font-weight:700;letter-spacing:-0.3px">9<span style="font-size:12.5px;font-weight:400;margin:0 3.2px 0 2.8px;letter-spacing:0;-webkit-text-stroke:0.3px #f4f4f4">h</span>25<span style="font-size:12.5px;font-weight:400;margin-left:3.2px;letter-spacing:-0.2px;-webkit-text-stroke:0.3px #f4f4f4">min</span></div>
<div class="t" style="left:18.90px;top:395.49px;font-size:8.4px;line-height:8.4px;color:#a8a8a8;letter-spacing:-0.05px;">2/27</div>
<div class="t" style="left:18.90px;top:405.17px;font-size:7.95px;line-height:7.95px;color:#a8a8a8;letter-spacing:-0.15px;-webkit-text-stroke:0.1px #a8a8a8;">23:38 Fell asleep</div>
<div class="t" style="right:17.80px;top:395.49px;font-size:8.4px;line-height:8.4px;color:#a8a8a8;text-align:right;letter-spacing:-0.05px;">2/28</div>
<div class="t" style="right:17.80px;top:405.17px;font-size:7.95px;line-height:7.95px;color:#a8a8a8;text-align:right;letter-spacing:-0.15px;-webkit-text-stroke:0.1px #a8a8a8;">09:43 Woke up</div>
<div class="r" style="left:18.30px;top:323.10px;width:4.85px;height:25.30px;background:#c0006a;border-radius:1px"></div>
<div class="r" style="left:24.25px;top:323.10px;width:6.80px;height:25.30px;background:#c0006a;border-radius:1px"></div>
<div class="r" style="left:33.75px;top:323.10px;width:4.80px;height:25.30px;background:#c0006a;border-radius:1px"></div>
<div class="r" style="left:40.15px;top:323.10px;width:0.80px;height:25.30px;background:#c0006a;border-radius:1px"></div>
<div class="r" style="left:44.05px;top:323.10px;width:5.80px;height:25.30px;background:#c0006a;border-radius:1px"></div>
<div class="r" style="left:51.15px;top:323.10px;width:10.00px;height:25.30px;background:#c0006a;border-radius:1px"></div>
<div class="r" style="left:63.15px;top:323.10px;width:5.00px;height:25.30px;background:#c0006a;border-radius:1px"></div>
<div class="r" style="left:72.35px;top:323.10px;width:3.90px;height:25.30px;background:#c0006a;border-radius:1px"></div>
<div class="r" style="left:79.40px;top:323.10px;width:2.45px;height:25.30px;background:#c0006a;border-radius:1px"></div>
<div class="r" style="left:84.05px;top:323.10px;width:1.50px;height:25.30px;background:#c0006a;border-radius:1px"></div>
<div class="r" style="left:89.35px;top:323.10px;width:6.30px;height:25.30px;background:#c0006a;border-radius:1px"></div>
<div class="r" style="left:96.95px;top:323.10px;width:5.00px;height:25.30px;background:#c0006a;border-radius:1px"></div>
<div class="r" style="left:102.95px;top:323.10px;width:3.30px;height:25.30px;background:#c0006a;border-radius:1px"></div>
<div class="r" style="left:110.05px;top:323.10px;width:7.90px;height:25.30px;background:#c0006a;border-radius:1px"></div>
<div class="r" style="left:119.25px;top:323.10px;width:0.40px;height:25.30px;background:#c0006a;border-radius:1px"></div>
<div class="r" style="left:121.15px;top:323.10px;width:4.20px;height:25.30px;background:#c0006a;border-radius:1px"></div>
<div class="r" style="left:129.75px;top:323.10px;width:1.40px;height:25.30px;background:#c0006a;border-radius:1px"></div>
<div class="r" style="left:138.75px;top:323.10px;width:1.40px;height:25.30px;background:#c0006a;border-radius:1px"></div>
<div class="r" style="left:143.95px;top:323.10px;width:3.90px;height:25.30px;background:#c0006a;border-radius:1px"></div>
<div class="r" style="left:149.95px;top:323.10px;width:4.00px;height:25.30px;background:#c0006a;border-radius:1px"></div>
<div class="r" style="left:155.95px;top:323.10px;width:9.90px;height:25.30px;background:#c0006a;border-radius:1px"></div>
<div class="r" style="left:169.55px;top:323.10px;width:2.00px;height:25.30px;background:#c0006a;border-radius:1px"></div>
<div class="r" style="left:175.65px;top:323.10px;width:4.30px;height:25.30px;background:#c0006a;border-radius:1px"></div>
<div class="r" style="left:180.95px;top:323.10px;width:15.90px;height:25.30px;background:#c0006a;border-radius:1px"></div>
<div class="r" style="left:198.15px;top:323.10px;width:0.90px;height:25.30px;background:#c0006a;border-radius:1px"></div>
<div class="r" style="left:202.15px;top:323.10px;width:11.60px;height:25.30px;background:#c0006a;border-radius:1px"></div>
<div class="r" style="left:215.55px;top:323.10px;width:7.50px;height:25.30px;background:#c0006a;border-radius:1px"></div>
<div class="r" style="left:226.75px;top:323.10px;width:10.00px;height:25.30px;background:#c0006a;border-radius:1px"></div>
<div class="r" style="left:238.05px;top:323.10px;width:6.00px;height:25.30px;background:#c0006a;border-radius:1px"></div>
<div class="r" style="left:263.95px;top:323.10px;width:2.10px;height:25.30px;background:#c0006a;border-radius:1px"></div>
<div class="r" style="left:268.15px;top:323.10px;width:2.80px;height:25.30px;background:#c0006a;border-radius:1px"></div>
<div class="r" style="left:274.15px;top:323.10px;width:1.50px;height:25.30px;background:#c0006a;border-radius:1px"></div>
<div class="r" style="left:277.55px;top:323.10px;width:1.20px;height:25.30px;background:#c0006a;border-radius:1px"></div>
<div class="r" style="left:280.05px;top:323.10px;width:0.80px;height:25.30px;background:#c0006a;border-radius:1px"></div>
<div class="r" style="left:285.45px;top:323.10px;width:1.45px;height:25.30px;background:#c0006a;border-radius:1px"></div>
<div class="r" style="left:287.90px;top:323.10px;width:1.85px;height:25.30px;background:#c0006a;border-radius:1px"></div>
<div class="r" style="left:292.05px;top:323.10px;width:5.80px;height:25.30px;background:#c0006a;border-radius:1px"></div>
<div class="r" style="left:302.00px;top:323.10px;width:1.05px;height:25.30px;background:#c0006a;border-radius:1px"></div>
<div class="r" style="left:308.95px;top:323.10px;width:0.80px;height:25.30px;background:#c0006a;border-radius:1px"></div>
<div class="r" style="left:312.25px;top:323.10px;width:0.40px;height:25.30px;background:#c0006a;border-radius:1px"></div>
<div class="r" style="left:314.65px;top:323.10px;width:1.10px;height:25.30px;background:#c0006a;border-radius:1px"></div>
<div class="r" style="left:319.25px;top:323.10px;width:8.60px;height:25.30px;background:#c0006a;border-radius:1px"></div>
<div class="r" style="left:330.85px;top:323.10px;width:16.30px;height:25.30px;background:#c0006a;border-radius:1px"></div>
<div class="r" style="left:349.25px;top:323.10px;width:0.80px;height:25.30px;background:#c0006a;border-radius:1px"></div>
<div class="r" style="left:352.05px;top:323.10px;width:0.80px;height:25.30px;background:#c0006a;border-radius:1px"></div>
<div class="r" style="left:355.15px;top:323.10px;width:8.95px;height:25.30px;background:#c0006a;border-radius:1px"></div>
<div class="r" style="left:23.10px;top:348.40px;width:1.20px;height:25.10px;background:#7647ea;border-radius:1px"></div>
<div class="r" style="left:31.00px;top:348.40px;width:2.80px;height:25.10px;background:#7647ea;border-radius:1px"></div>
<div class="r" style="left:38.50px;top:348.40px;width:1.70px;height:25.10px;background:#7647ea;border-radius:1px"></div>
<div class="r" style="left:40.90px;top:298.00px;width:3.20px;height:25.10px;background:#e4662a;border-radius:1px"></div>
<div class="r" style="left:49.80px;top:348.40px;width:1.40px;height:25.10px;background:#7647ea;border-radius:1px"></div>
<div class="r" style="left:61.10px;top:348.40px;width:2.10px;height:25.10px;background:#7647ea;border-radius:1px"></div>
<div class="r" style="left:68.10px;top:298.00px;width:4.30px;height:25.10px;background:#e4662a;border-radius:1px"></div>
<div class="r" style="left:76.20px;top:298.00px;width:2.20px;height:25.10px;background:#e4662a;border-radius:1px"></div>
<div class="r" style="left:78.40px;top:348.40px;width:1.00px;height:25.10px;background:#7647ea;border-radius:1px"></div>
<div class="r" style="left:81.80px;top:298.00px;width:2.30px;height:25.10px;background:#e4662a;border-radius:1px"></div>
<div class="r" style="left:85.50px;top:298.00px;width:3.90px;height:25.10px;background:#e4662a;border-radius:1px"></div>
<div class="r" style="left:95.60px;top:348.40px;width:1.40px;height:25.10px;background:#7647ea;border-radius:1px"></div>
<div class="r" style="left:101.90px;top:272.60px;width:1.10px;height:25.40px;background:#ef9a0c;border-radius:1px"></div>
<div class="r" style="left:106.20px;top:348.40px;width:3.90px;height:25.10px;background:#7647ea;border-radius:1px"></div>
<div class="r" style="left:117.90px;top:348.40px;width:1.40px;height:25.10px;background:#7647ea;border-radius:1px"></div>
<div class="r" style="left:119.60px;top:298.00px;width:1.60px;height:25.10px;background:#e4662a;border-radius:1px"></div>
<div class="r" style="left:121.80px;top:348.40px;width:1.40px;height:25.10px;background:#7647ea;border-radius:1px"></div>
<div class="r" style="left:125.30px;top:298.00px;width:2.60px;height:25.10px;background:#e4662a;border-radius:1px"></div>
<div class="r" style="left:127.40px;top:348.40px;width:2.40px;height:25.10px;background:#7647ea;border-radius:1px"></div>
<div class="r" style="left:131.10px;top:298.00px;width:2.10px;height:25.10px;background:#e4662a;border-radius:1px"></div>
<div class="r" style="left:132.70px;top:348.40px;width:1.80px;height:25.10px;background:#7647ea;border-radius:1px"></div>
<div class="r" style="left:134.10px;top:298.00px;width:4.70px;height:25.10px;background:#e4662a;border-radius:1px"></div>
<div class="r" style="left:140.10px;top:298.00px;width:3.90px;height:25.10px;background:#e4662a;border-radius:1px"></div>
<div class="r" style="left:144.00px;top:298.00px;width:0.70px;height:25.10px;background:#e4662a;border-radius:1px"></div>
<div class="r" style="left:147.80px;top:298.00px;width:2.20px;height:25.10px;background:#e4662a;border-radius:1px"></div>
<div class="r" style="left:153.90px;top:298.00px;width:2.10px;height:25.10px;background:#e4662a;border-radius:1px"></div>
<div class="r" style="left:165.80px;top:298.00px;width:2.10px;height:25.10px;background:#e4662a;border-radius:1px"></div>
<div class="r" style="left:167.90px;top:348.40px;width:1.70px;height:25.10px;background:#7647ea;border-radius:1px"></div>
<div class="r" style="left:171.50px;top:298.00px;width:2.10px;height:25.10px;background:#e4662a;border-radius:1px"></div>
<div class="r" style="left:173.60px;top:348.40px;width:2.10px;height:25.10px;background:#7647ea;border-radius:1px"></div>
<div class="r" style="left:179.90px;top:348.40px;width:1.10px;height:25.10px;background:#7647ea;border-radius:1px"></div>
<div class="r" style="left:196.80px;top:348.40px;width:1.40px;height:25.10px;background:#7647ea;border-radius:1px"></div>
<div class="r" style="left:199.00px;top:298.00px;width:3.20px;height:25.10px;background:#e4662a;border-radius:1px"></div>
<div class="r" style="left:213.70px;top:348.40px;width:1.90px;height:25.10px;background:#7647ea;border-radius:1px"></div>
<div class="r" style="left:223.00px;top:298.00px;width:2.00px;height:25.10px;background:#e4662a;border-radius:1px"></div>
<div class="r" style="left:225.00px;top:348.40px;width:1.80px;height:25.10px;background:#7647ea;border-radius:1px"></div>
<div class="r" style="left:236.70px;top:348.40px;width:1.40px;height:25.10px;background:#7647ea;border-radius:1px"></div>
<div class="r" style="left:244.00px;top:272.60px;width:20.00px;height:25.40px;background:#ea8a04;border-radius:1px"></div>
<div class="r" style="left:266.00px;top:298.00px;width:2.20px;height:25.10px;background:#e4662a;border-radius:1px"></div>
<div class="r" style="left:270.90px;top:298.00px;width:3.30px;height:25.10px;background:#e4662a;border-radius:1px"></div>
<div class="r" style="left:275.60px;top:298.00px;width:2.00px;height:25.10px;background:#e4662a;border-radius:1px"></div>
<div class="r" style="left:278.70px;top:348.40px;width:1.40px;height:25.10px;background:#7647ea;border-radius:1px"></div>
<div class="r" style="left:280.80px;top:298.00px;width:3.30px;height:25.10px;background:#e4662a;border-radius:1px"></div>
<div class="r" style="left:284.10px;top:348.40px;width:1.40px;height:25.10px;background:#7647ea;border-radius:1px"></div>
<div class="r" style="left:286.90px;top:348.40px;width:1.00px;height:25.10px;background:#7647ea;border-radius:1px"></div>
<div class="r" style="left:289.70px;top:348.40px;width:2.40px;height:25.10px;background:#7647ea;border-radius:1px"></div>
<div class="r" style="left:297.80px;top:298.00px;width:3.20px;height:25.10px;background:#e4662a;border-radius:1px"></div>
<div class="r" style="left:301.00px;top:348.40px;width:1.00px;height:25.10px;background:#7647ea;border-radius:1px"></div>
<div class="r" style="left:303.00px;top:298.00px;width:3.20px;height:25.10px;background:#e4662a;border-radius:1px"></div>
<div class="r" style="left:306.20px;top:348.40px;width:2.80px;height:25.10px;background:#7647ea;border-radius:1px"></div>
<div class="r" style="left:309.70px;top:298.00px;width:2.60px;height:25.10px;background:#e4662a;border-radius:1px"></div>
<div class="r" style="left:312.60px;top:348.40px;width:2.10px;height:25.10px;background:#7647ea;border-radius:1px"></div>
<div class="r" style="left:315.70px;top:348.40px;width:3.60px;height:25.10px;background:#7647ea;border-radius:1px"></div>
<div class="r" style="left:327.80px;top:272.60px;width:3.10px;height:25.40px;background:#ef9a0c;border-radius:1px"></div>
<div class="r" style="left:347.10px;top:298.00px;width:2.20px;height:25.10px;background:#e4662a;border-radius:1px"></div>
<div class="r" style="left:350.00px;top:348.40px;width:2.10px;height:25.10px;background:#7647ea;border-radius:1px"></div>
<div class="r" style="left:352.80px;top:298.00px;width:2.40px;height:25.10px;background:#e4662a;border-radius:1px"></div>
<div class="r" style="left:18.30px;top:382.60px;width:346.30px;height:1.00px;background:#4a4a4c;"></div>
<div class="r" style="left:364.10px;top:272.60px;width:1.00px;height:110.50px;background:#4a4a4c;"></div>
<div class="r" style="left:358.80px;top:420.60px;width:12.2px;height:12.2px;border-radius:50%;background:#d0d0d0;box-shadow:inset 0 0 0 0.8px #e4e4e4"></div>
<div class="r" style="left:29.30px;top:451.30px;width:3.2px;height:3.2px;border-radius:50%;background:#8b5cf6"></div>
<div class="t" style="left:33.80px;top:446.83px;font-size:9.3px;line-height:9.3px;color:#d8d8d8;letter-spacing:-0.22px;-webkit-text-stroke:0.15px #d8d8d8;">Deep sleep</div>
<div class="r" style="left:121.60px;top:451.30px;width:3.2px;height:3.2px;border-radius:50%;background:#e0157f"></div>
<div class="t" style="left:126.00px;top:446.83px;font-size:9.3px;line-height:9.3px;color:#d8d8d8;letter-spacing:-0.22px;-webkit-text-stroke:0.15px #d8d8d8;">Light sleep</div>
<div class="r" style="left:214.00px;top:451.30px;width:3.2px;height:3.2px;border-radius:50%;background:#ff6a1a"></div>
<div class="t" style="left:218.50px;top:446.83px;font-size:9.3px;line-height:9.3px;color:#d8d8d8;letter-spacing:-0.22px;-webkit-text-stroke:0.15px #d8d8d8;">REM sleep</div>
<div class="r" style="left:313.80px;top:451.30px;width:3.2px;height:3.2px;border-radius:50%;background:#ffa00a"></div>
<div class="t" style="left:318.00px;top:446.83px;font-size:9.3px;line-height:9.3px;color:#d8d8d8;letter-spacing:-0.22px;-webkit-text-stroke:0.15px #d8d8d8;">Awake</div>
<div class="r" style="left:9.90px;top:467.00px;width:126.00px;height:62.70px;background:#202022;border-radius:12px"></div>
<div class="r" style="left:142.90px;top:467.00px;width:126.00px;height:62.70px;background:#202022;border-radius:12px"></div>
<div class="r" style="left:275.60px;top:467.00px;width:126.00px;height:62.70px;background:#202022;border-radius:12px"></div>
<div class="t" style="left:19.60px;top:483.32px;font-size:11.2px;line-height:11.2px;color:#f2f2f2;font-weight:700;letter-spacing:-0.2px;">Record sleep</div>
<div class="t" style="left:19.60px;top:499.72px;font-size:7.3px;line-height:7.3px;color:#9a9a9a;letter-spacing:-0.15px;">Record sleep talking</div>
<div class="t" style="left:19.60px;top:507.92px;font-size:7.3px;line-height:7.3px;color:#9a9a9a;letter-spacing:-0.15px;">and snoring.</div>
<svg class="s" style="left:93.00px;top:483.00px;" width="32" height="32" viewBox="0 0 32 32"><defs><linearGradient id="nb" x1="0" y1="0" x2="0.4" y2="1"><stop offset="0" stop-color="#8a8ef8"/><stop offset="1" stop-color="#b07af2"/></linearGradient><linearGradient id="mn" x1="0" y1="0" x2="1" y2="1"><stop offset="0" stop-color="#cdc4fa"/><stop offset="0.6" stop-color="#b8b4e6"/><stop offset="1" stop-color="#8f9cb4"/></linearGradient><linearGradient id="zz" x1="0" y1="0" x2="0" y2="1"><stop offset="0" stop-color="#9cc4ff"/><stop offset="1" stop-color="#a46cf6"/></linearGradient><mask id="mcut"><rect width="32" height="32" fill="#fff"/><circle cx="26.2" cy="14.6" r="8" fill="#000"/></mask></defs><rect x="2.1" y="2.5" width="19.1" height="23.7" rx="2.2" fill="url(#nb)"/><rect x="5" y="6.4" width="13" height="1.6" rx="0.8" fill="#cdc8ff"/><rect x="5" y="10.4" width="6.3" height="1.6" rx="0.8" fill="#cdc8ff"/><circle cx="20.6" cy="21" r="9.4" fill="url(#mn)" mask="url(#mcut)"/><path d="M23.4 15H27.6L23.4 18.6H27.8" fill="none" stroke="url(#zz)" stroke-width="1.6" stroke-linejoin="bevel"/></svg>
<div class="t" style="left:152.20px;top:485.61px;font-size:11.8px;line-height:11.8px;color:#f2f2f2;font-weight:700;letter-spacing:0px;">Sleep music</div>
<div class="t" style="left:152.20px;top:502.98px;font-size:9.0px;line-height:9.0px;color:#8c8c8c;">Settle your mind.</div>
<svg class="s" style="left:224.00px;top:482.00px;" width="34" height="34" viewBox="0 0 34 34"><defs><linearGradient id="mgl" x1="0.2" y1="0" x2="0.6" y2="1"><stop offset="0" stop-color="#3d7ab4"/><stop offset="0.55" stop-color="#4f5cc0"/><stop offset="1" stop-color="#5a4ac8"/></linearGradient><radialGradient id="mg" cx="0.36" cy="0.66" r="0.32"><stop offset="0" stop-color="#7a5cff" stop-opacity="0.95"/><stop offset="1" stop-color="#6a54e8" stop-opacity="0"/></radialGradient><linearGradient id="nt" x1="0" y1="0" x2="0" y2="1"><stop offset="0" stop-color="#9c9cff"/><stop offset="1" stop-color="#a866f2"/></linearGradient><mask id="mcut2"><rect width="34" height="34" fill="#fff"/><circle cx="26.6" cy="7.4" r="14.4" fill="#000"/></mask></defs><g mask="url(#mcut2)"><circle cx="17" cy="16.5" r="14.8" fill="url(#mgl)" stroke="#9aa8e8" stroke-width="0.6"/><circle cx="17" cy="16.5" r="14.5" fill="url(#mg)"/></g><path d="M14.9 5.6Q14.9 4.6 16 4.3L27.8 2.4Q29 2.3 29 3.4V17h-2.5V6.9L17 9.2V15.5H14.9Z" fill="url(#nt)"/><ellipse cx="23.9" cy="17.1" rx="4.4" ry="3.1" transform="rotate(-15 23.9 17.1)" fill="url(#nt)"/></svg>
<div class="t" style="left:284.70px;top:485.07px;font-size:7.6px;line-height:7.6px;color:#f0f0f0;font-weight:700;letter-spacing:0px;">Breathing exercise</div>
<div class="t" style="left:284.70px;top:497.71px;font-size:7.2px;line-height:7.2px;color:#999999;">Quickly regulate</div>
<div class="t" style="left:284.70px;top:505.51px;font-size:7.2px;line-height:7.2px;color:#999999;">emotions.</div>
<svg class="s" style="left:357.00px;top:481.50px;" width="32" height="33" viewBox="0 0 32 33"><defs><linearGradient id="bg3" x1="0" y1="0" x2="0" y2="1"><stop offset="0" stop-color="#9adcec"/><stop offset="1" stop-color="#9fe2ee"/></linearGradient><radialGradient id="wh" cx="0.75" cy="0.3" r="0.8"><stop offset="0" stop-color="#ffffff"/><stop offset="1" stop-color="#d6f0f8"/></radialGradient></defs><circle cx="16.1" cy="16.5" r="15.3" fill="url(#bg3)" stroke="#c8f4fc" stroke-width="0.6"/><path d="M12.5 1.5C10.5 7 11.5 10.5 14.8 14.6C18.4 19.2 18.2 26 14 31.7A15.3 15.3 0 1 0 12.5 1.5Z" fill="url(#wh)"/></svg>
<div class="r" style="left:10.00px;top:539.60px;width:364.00px;height:169.60px;background:#202022;border-radius:12px"></div>
<svg class="s" style="left:19.20px;top:550.00px;" width="13.2" height="13.2" viewBox="0 0 13.2 13.2"><rect x="0" y="0" width="13.2" height="13.2" rx="3" fill="#7a4cf4"/><g transform="translate(6.5 7.0) scale(0.86)"><path d="M0 -4.3L1.15 -1.5L4.2 -1.35L1.85 0.6L2.65 3.55L0 1.9L-2.65 3.55L-1.85 0.6L-4.2 -1.35L-1.15 -1.5Z" fill="#fff" stroke="#fff" stroke-width="1.0" stroke-linejoin="round"/><circle cx="0" cy="0.5" r="0.9" fill="#7a4cf4"/></g></svg>
<div class="t" style="left:38.40px;top:551.88px;font-size:10.3px;line-height:10.3px;color:#e6e6e6;letter-spacing:-0.12px;-webkit-text-stroke:0.15px #e6e6e6;">Sleep score</div>
<svg class="s" style="left:18.10px;top:575.40px;" width="66" height="66" viewBox="0 0 66 66"><path d="M13.49 53.78A28.5 28.5 0 0 1 33.00 4.50" fill="none" stroke="#3d1ba6" stroke-width="6.4"/><path d="M34.49 4.54A28.5 28.5 0 1 1 14.23 54.44" fill="none" stroke="#6a2df4" stroke-width="6.4" stroke-linecap="round"/></svg>
<div class="t" style="left:26.10px;width:50px;text-align:center;top:599.69px;font-size:19.5px;line-height:19.5px;color:#bd9cff;">62</div>
<div class="t" style="left:95.80px;top:594.13px;font-size:12.6px;line-height:12.6px;color:#8c5cf7;letter-spacing:0.0px;-webkit-text-stroke:0.3px #8c5cf7;">To be improved</div>
<div class="t" style="left:95.80px;top:613.02px;font-size:11.2px;line-height:11.2px;color:#f2f2f2;letter-spacing:-0.1px;-webkit-text-stroke:0.35px #f2f2f2;">Sleep quality was not bad. You got too much sleep.</div>
<div class="t" style="left:19.40px;top:652.01px;font-size:9.2px;line-height:9.2px;color:#c8c8c8;letter-spacing:0.19px;-webkit-text-stroke:0.2px #c8c8c8;">You slept for 9.4 h last night, longer than the 8-hour optimal duration. Studies</div>
<div class="t" style="left:19.40px;top:663.25px;font-size:9.2px;line-height:9.2px;color:#c8c8c8;letter-spacing:0.19px;-webkit-text-stroke:0.2px #c8c8c8;">have shown that too much sleep will slow down your metabolism, making you</div>
<div class="t" style="left:19.40px;top:674.49px;font-size:9.2px;line-height:9.2px;color:#c8c8c8;letter-spacing:0.19px;-webkit-text-stroke:0.2px #c8c8c8;">feel sleepy or even dizzy when waking up. It would be better to take a walk or</div>
<div class="t" style="left:19.40px;top:685.73px;font-size:9.2px;line-height:9.2px;color:#c8c8c8;letter-spacing:0.19px;-webkit-text-stroke:0.2px #c8c8c8;">exercise 30 min after dinner to relax.</div>
<div class="r" style="left:10.00px;top:719.00px;width:364.00px;height:120.00px;background:#202022;border-radius:12px"></div>
<svg class="s" style="left:19.20px;top:729.30px;" width="13.2" height="13.2" viewBox="0 0 13.2 13.2"><rect x="0" y="0" width="13.2" height="13.2" rx="3" fill="#7a4cf4"/><path d="M6.6 2.6A4.1 4.1 0 1 0 10.7 6.7H6.6Z" fill="#fff"/><path d="M7.4 1.9A4.1 4.1 0 0 1 11.4 5.9H7.4Z" fill="#fff"/></svg>
<div class="t" style="left:38.30px;top:730.88px;font-size:10.3px;line-height:10.3px;color:#e6e6e6;letter-spacing:-0.12px;-webkit-text-stroke:0.15px #e6e6e6;">Sleep analysis</div>
<svg class="s" style="left:17.90px;top:760.60px;" width="66" height="66" viewBox="0 0 66 66"><path d="M35.45 5.01A28.1 28.1 0 0 1 52.87 13.13" fill="none" stroke="#7b4cf0" stroke-width="7"/><path d="M52.87 13.13A28.1 28.1 0 1 1 8.07 20.02" fill="none" stroke="#c0006b" stroke-width="7"/><path d="M8.07 20.02A28.1 28.1 0 0 1 35.45 5.01" fill="none" stroke="#e6672a" stroke-width="7"/><circle cx="51.62" cy="11.95" r="3.5" fill="#7b4cf0"/><circle cx="7.33" cy="21.57" r="3.5" fill="#c0006b"/><circle cx="33.74" cy="4.91" r="3.5" fill="#e6672a"/></svg>
<div class="r" style="left:101.40px;top:772.30px;width:4.6px;height:4.6px;border-radius:50%;background:#8b5cf6"></div>
<div class="t" style="left:112.50px;top:770.96px;font-size:9.5px;line-height:9.5px;color:#c8c8c8;letter-spacing:-0.12px;-webkit-text-stroke:0.15px #c8c8c8;">Deep sleep</div>
<div class="t" style="left:235.30px;top:770.62px;font-size:9.9px;line-height:9.9px;color:#ececec;letter-spacing:-0.1px;">1 h 3 min</div>
<div class="r" style="left:101.40px;top:791.70px;width:4.6px;height:4.6px;border-radius:50%;background:#d4137a"></div>
<div class="t" style="left:112.50px;top:790.36px;font-size:9.5px;line-height:9.5px;color:#c8c8c8;letter-spacing:-0.12px;-webkit-text-stroke:0.15px #c8c8c8;">Light sleep</div>
<div class="t" style="left:235.30px;top:790.02px;font-size:9.9px;line-height:9.9px;color:#ececec;letter-spacing:-0.1px;">6 h 38 min</div>
<div class="r" style="left:101.40px;top:811.10px;width:4.6px;height:4.6px;border-radius:50%;background:#f26a22"></div>
<div class="t" style="left:112.50px;top:809.76px;font-size:9.5px;line-height:9.5px;color:#c8c8c8;letter-spacing:-0.12px;-webkit-text-stroke:0.15px #c8c8c8;">REM sleep</div>
<div class="t" style="left:235.30px;top:809.42px;font-size:9.9px;line-height:9.9px;color:#ececec;letter-spacing:-0.1px;">1 h 44 min</div>
<div class="r" style="left:0.00px;top:810.60px;width:383.00px;height:19.40px;background:#000;"></div>
<div class="r" style="left:149.30px;top:819.40px;width:85.00px;height:2.90px;background:#f4f4f4;border-radius:1.5px"></div>
</div>
<div class="ph" style="left:1001px;top:10px">
<div class="r" style="left:0.00px;top:0.00px;width:383.00px;height:423.70px;background:#202022;"></div>
<svg class="s" style="left:340.00px;top:410.00px;" width="43" height="16" viewBox="0 0 43 16"><path d="M8 13.75C15 13.75 16.5 6.8 24.6 6.8C32.7 6.8 34.2 13.75 42 13.75V16H8Z" fill="#000"/></svg>
<div class="t" style="left:24.50px;top:13.75px;font-size:11.4px;line-height:11.4px;color:#f2f2f2;font-weight:700;letter-spacing:-0.5px;">12:08</div>
<svg class="s" style="left:54.50px;top:12.50px;" width="14" height="14" viewBox="0 0 14 14"><path d="M6.8 1.6a5.2 5.2 0 1 1-2.6 9.7L1.6 12.1l0.8-2.5A5.2 5.2 0 0 1 6.8 1.6z" fill="none" stroke="#e8e8e8" stroke-width="1.2"/><path d="M4.7 4.6c0.3-0.4 0.8-0.4 1 0l0.4 0.9c0.1 0.3-0.3 0.6-0.4 0.8 0.4 0.9 1.1 1.6 2 2 0.2-0.2 0.5-0.5 0.8-0.4l0.9 0.4c0.4 0.2 0.4 0.7 0 1-0.6 0.6-1.5 0.6-2.4 0.1-1.1-0.6-2-1.5-2.6-2.6-0.4-0.8-0.4-1.7 0.3-2.2z" fill="#e8e8e8"/></svg>
<svg class="s" style="left:276.50px;top:13.00px;" width="10" height="12" viewBox="0 0 10 12"><path d="M2 3.6l5.2 4.8-2.6 2.4V1.4l2.6 2.4L2 8.4" fill="none" stroke="#f0f0f0" stroke-width="1.1"/><circle cx="1.3" cy="6.1" r="0.7" fill="#f0f0f0"/><circle cx="8.6" cy="6.1" r="0.7" fill="#f0f0f0"/></svg>
<svg class="s" style="left:289.50px;top:13.80px;" width="13" height="11" viewBox="0 0 13 11"><path d="M0.6 3.3A8.4 8.4 0 0 1 12.0 3.3" fill="none" stroke="#f0f0f0" stroke-width="1.1"/><path d="M1.8 4.9A6.8 6.8 0 0 1 10.8 4.9L6.3 10.3z" fill="#f0f0f0"/></svg>
<svg class="s" style="left:303.00px;top:13.80px;" width="11" height="11" viewBox="0 0 11 11"><path d="M0.6 10.2L10 0.8V10.2z" fill="none" stroke="#f0f0f0" stroke-width="1.1"/><path d="M0.6 10.2L6.5 4.3V10.2z" fill="#f0f0f0"/></svg>
<svg class="s" style="left:314.60px;top:13.80px;" width="11" height="11" viewBox="0 0 11 11"><path d="M0.6 10.2L9.6 1.2V10.2z" fill="#f0f0f0"/><path d="M7.4 4.2V9.4" stroke="#202022" stroke-width="1.2"/></svg>
<svg class="s" style="left:329.50px;top:13.60px;" width="7" height="12" viewBox="0 0 7 12"><rect x="2" y="0.4" width="2.6" height="1.4" fill="#f0f0f0"/><rect x="0.4" y="1.6" width="5.8" height="9.6" rx="0.8" fill="#f0f0f0"/></svg>
<div class="t" style="left:339.40px;top:14.12px;font-size:11.2px;line-height:11.2px;color:#f2f2f2;font-weight:700;letter-spacing:-0.9px;">91%</div>
<svg class="s" style="left:22.00px;top:52.00px;" width="13" height="17" viewBox="0 0 13 17"><path d="M9.6 1.8L3 8.4l6.6 6.6" fill="none" stroke="#f4f4f4" stroke-width="1.8"/></svg>
<div class="t" style="left:47.90px;top:53.38px;font-size:16.8px;line-height:16.8px;color:#f4f4f4;letter-spacing:-0.62px;-webkit-text-stroke:0.8px #f4f4f4;">Sleep</div>
<svg class="s" style="left:316.00px;top:51.00px;" width="20" height="18" viewBox="0 0 20 18"><circle cx="10.4" cy="4.4" r="2.2" fill="none" stroke="#f4f4f4" stroke-width="1.3"/><circle cx="4.8" cy="13.9" r="2.2" fill="none" stroke="#f4f4f4" stroke-width="1.3"/><circle cx="16.2" cy="13.9" r="2.2" fill="none" stroke="#f4f4f4" stroke-width="1.3"/><path d="M9.2 6.3L6 11.9M7 13.9H14" stroke="#f4f4f4" stroke-width="1.3"/></svg>
<svg class="s" style="left:356.00px;top:51.00px;" width="8" height="19" viewBox="0 0 8 19"><circle cx="3.8" cy="3.3" r="1.65" fill="#f4f4f4"/><circle cx="3.8" cy="9.3" r="1.65" fill="#f4f4f4"/><circle cx="3.8" cy="15.3" r="1.65" fill="#f4f4f4"/></svg>
<div class="t" style="left:88.40px;top:100.63px;font-size:12.6px;line-height:12.6px;color:#f26b26;letter-spacing:-0.5px;-webkit-text-stroke:0.4px #f26b26;">Day</div>
<div class="t" style="left:145.30px;top:100.63px;font-size:12.6px;line-height:12.6px;color:#c4c4c4;letter-spacing:-0.4px;-webkit-text-stroke:0.4px #c4c4c4;">Week</div>
<div class="t" style="left:204.50px;top:100.63px;font-size:12.6px;line-height:12.6px;color:#c4c4c4;letter-spacing:0.1px;-webkit-text-stroke:0.4px #c4c4c4;">Month</div>
<div class="t" style="left:272.50px;top:100.63px;font-size:12.6px;line-height:12.6px;color:#c4c4c4;letter-spacing:-0.15px;-webkit-text-stroke:0.4px #c4c4c4;">Year</div>
<div class="r" style="left:86.00px;top:118.30px;width:25.40px;height:2.00px;background:#f26b26;border-radius:1px"></div>
<svg class="s" style="left:13.00px;top:139.00px;" width="13" height="18" viewBox="0 0 13 18"><path d="M9.8 2.3L3.4 9.1l6.4 6.8" fill="none" stroke="#bdbdbd" stroke-width="1.25"/></svg>
<svg class="s" style="left:358.00px;top:139.00px;" width="13" height="18" viewBox="0 0 13 18"><path d="M3.2 2.3L9.6 9.1l-6.4 6.8" fill="none" stroke="#e2e2e2" stroke-width="1.25"/></svg>
<div class="t" style="left:90px;width:200px;top:141.04px;font-size:17.2px;line-height:17.2px;color:#c6c6c6;text-align:center;letter-spacing:-0.3px">Mar 5<span style="display:inline-block;width:0;height:0;border-left:3px solid transparent;border-right:3px solid transparent;border-top:4.2px solid #c6c6c6;margin-left:5px;vertical-align:4.6px"></span></div>
<div class="t" style="left:132.20px;width:120px;text-align:center;top:172.09px;font-size:11px;line-height:11px;color:#c4c4c4;-webkit-text-stroke:0.2px #c4c4c4;">Time in bed</div>
<div class="t" style="left:92px;width:200px;top:191.51px;font-size:23.5px;line-height:23.5px;color:#f4f4f4;text-align:center;font-weight:700;letter-spacing:-0.3px">6<span style="font-size:12.5px;font-weight:400;margin:0 3.2px 0 2.8px;letter-spacing:0;-webkit-text-stroke:0.3px #f4f4f4">h</span>50<span style="font-size:12.5px;font-weight:400;margin-left:3.2px;letter-spacing:-0.2px;-webkit-text-stroke:0.3px #f4f4f4">min</span></div>
<div class="t" style="left:18.90px;top:395.49px;font-size:8.4px;line-height:8.4px;color:#a8a8a8;letter-spacing:-0.05px;">3/4</div>
<div class="t" style="left:18.90px;top:405.17px;font-size:7.95px;line-height:7.95px;color:#a8a8a8;letter-spacing:-0.15px;-webkit-text-stroke:0.1px #a8a8a8;">23:36 Fell asleep</div>
<div class="t" style="right:17.80px;top:395.49px;font-size:8.4px;line-height:8.4px;color:#a8a8a8;text-align:right;letter-spacing:-0.05px;">3/5</div>
<div class="t" style="right:17.80px;top:405.17px;font-size:7.95px;line-height:7.95px;color:#a8a8a8;text-align:right;letter-spacing:-0.15px;-webkit-text-stroke:0.1px #a8a8a8;">07:31 Woke up</div>
<div class="r" style="left:18.80px;top:323.10px;width:11.95px;height:25.30px;background:#c0006a;border-radius:1px"></div>
<div class="r" style="left:32.85px;top:323.10px;width:2.50px;height:25.30px;background:#c0006a;border-radius:1px"></div>
<div class="r" style="left:39.85px;top:323.10px;width:2.50px;height:25.30px;background:#c0006a;border-radius:1px"></div>
<div class="r" style="left:47.95px;top:323.10px;width:9.40px;height:25.30px;background:#c0006a;border-radius:1px"></div>
<div class="r" style="left:60.95px;top:323.10px;width:3.00px;height:25.30px;background:#c0006a;border-radius:1px"></div>
<div class="r" style="left:66.65px;top:323.10px;width:1.50px;height:25.30px;background:#c0006a;border-radius:1px"></div>
<div class="r" style="left:69.95px;top:323.10px;width:15.90px;height:25.30px;background:#c0006a;border-radius:1px"></div>
<div class="r" style="left:130.95px;top:323.10px;width:15.20px;height:25.30px;background:#c0006a;border-radius:1px"></div>
<div class="r" style="left:150.65px;top:323.10px;width:2.50px;height:25.30px;background:#c0006a;border-radius:1px"></div>
<div class="r" style="left:157.75px;top:323.10px;width:2.80px;height:25.30px;background:#c0006a;border-radius:1px"></div>
<div class="r" style="left:162.95px;top:323.10px;width:12.10px;height:25.30px;background:#c0006a;border-radius:1px"></div>
<div class="r" style="left:177.45px;top:323.10px;width:8.50px;height:25.30px;background:#c0006a;border-radius:1px"></div>
<div class="r" style="left:187.95px;top:323.10px;width:1.80px;height:25.30px;background:#c0006a;border-radius:1px"></div>
<div class="r" style="left:191.95px;top:323.10px;width:8.80px;height:25.30px;background:#c0006a;border-radius:1px"></div>
<div class="r" style="left:203.25px;top:323.10px;width:11.90px;height:25.30px;background:#c0006a;border-radius:1px"></div>
<div class="r" style="left:223.95px;top:323.10px;width:0.50px;height:25.30px;background:#c0006a;border-radius:1px"></div>
<div class="r" style="left:231.05px;top:323.10px;width:1.50px;height:25.30px;background:#c0006a;border-radius:1px"></div>
<div class="r" style="left:243.75px;top:323.10px;width:7.50px;height:25.30px;background:#c0006a;border-radius:1px"></div>
<div class="r" style="left:253.15px;top:323.10px;width:12.80px;height:25.30px;background:#c0006a;border-radius:1px"></div>
<div class="r" style="left:268.15px;top:323.10px;width:2.10px;height:25.30px;background:#c0006a;border-radius:1px"></div>
<div class="r" style="left:272.75px;top:323.10px;width:21.30px;height:25.30px;background:#c0006a;border-radius:1px"></div>
<div class="r" style="left:295.55px;top:323.10px;width:1.50px;height:25.30px;background:#c0006a;border-radius:1px"></div>
<div class="r" style="left:301.95px;top:323.10px;width:6.40px;height:25.30px;background:#c0006a;border-radius:1px"></div>
<div class="r" style="left:309.95px;top:323.10px;width:1.30px;height:25.30px;background:#c0006a;border-radius:1px"></div>
<div class="r" style="left:316.45px;top:323.10px;width:9.20px;height:25.30px;background:#c0006a;border-radius:1px"></div>
<div class="r" style="left:331.55px;top:323.10px;width:2.00px;height:25.30px;background:#c0006a;border-radius:1px"></div>
<div class="r" style="left:335.85px;top:323.10px;width:7.10px;height:25.30px;background:#c0006a;border-radius:1px"></div>
<div class="r" style="left:345.25px;top:323.10px;width:6.20px;height:25.30px;background:#c0006a;border-radius:1px"></div>
<div class="r" style="left:353.75px;top:323.10px;width:10.35px;height:25.30px;background:#c0006a;border-radius:1px"></div>
<div class="r" style="left:30.70px;top:348.40px;width:2.20px;height:25.10px;background:#7647ea;border-radius:1px"></div>
<div class="r" style="left:35.30px;top:298.00px;width:2.50px;height:25.10px;background:#e4662a;border-radius:1px"></div>
<div class="r" style="left:37.80px;top:348.40px;width:2.10px;height:25.10px;background:#7647ea;border-radius:1px"></div>
<div class="r" style="left:42.30px;top:298.00px;width:2.80px;height:25.10px;background:#e4662a;border-radius:1px"></div>
<div class="r" style="left:45.10px;top:348.40px;width:2.90px;height:25.10px;background:#7647ea;border-radius:1px"></div>
<div class="r" style="left:57.30px;top:298.00px;width:2.40px;height:25.10px;background:#e4662a;border-radius:1px"></div>
<div class="r" style="left:59.70px;top:348.40px;width:1.30px;height:25.10px;background:#7647ea;border-radius:1px"></div>
<div class="r" style="left:63.90px;top:298.00px;width:2.80px;height:25.10px;background:#e4662a;border-radius:1px"></div>
<div class="r" style="left:68.10px;top:348.40px;width:1.90px;height:25.10px;background:#7647ea;border-radius:1px"></div>
<div class="r" style="left:85.80px;top:272.60px;width:45.20px;height:25.40px;background:#ea8a04;border-radius:1px"></div>
<div class="r" style="left:146.10px;top:298.00px;width:2.40px;height:25.10px;background:#e4662a;border-radius:1px"></div>
<div class="r" style="left:148.50px;top:348.40px;width:2.20px;height:25.10px;background:#7647ea;border-radius:1px"></div>
<div class="r" style="left:153.10px;top:298.00px;width:2.40px;height:25.10px;background:#e4662a;border-radius:1px"></div>
<div class="r" style="left:155.50px;top:348.40px;width:2.30px;height:25.10px;background:#7647ea;border-radius:1px"></div>
<div class="r" style="left:160.50px;top:298.00px;width:2.50px;height:25.10px;background:#e4662a;border-radius:1px"></div>
<div class="r" style="left:175.00px;top:298.00px;width:2.50px;height:25.10px;background:#e4662a;border-radius:1px"></div>
<div class="r" style="left:185.90px;top:348.40px;width:2.10px;height:25.10px;background:#7647ea;border-radius:1px"></div>
<div class="r" style="left:189.70px;top:298.00px;width:2.30px;height:25.10px;background:#e4662a;border-radius:1px"></div>
<div class="r" style="left:200.70px;top:272.60px;width:2.60px;height:25.40px;background:#ef9a0c;border-radius:1px"></div>
<div class="r" style="left:215.10px;top:348.40px;width:8.90px;height:25.10px;background:#7647ea;border-radius:1px"></div>
<div class="r" style="left:224.40px;top:298.00px;width:3.80px;height:25.10px;background:#e4662a;border-radius:1px"></div>
<div class="r" style="left:228.20px;top:348.40px;width:2.90px;height:25.10px;background:#7647ea;border-radius:1px"></div>
<div class="r" style="left:232.50px;top:298.00px;width:2.40px;height:25.10px;background:#e4662a;border-radius:1px"></div>
<div class="r" style="left:234.90px;top:348.40px;width:2.20px;height:25.10px;background:#7647ea;border-radius:1px"></div>
<div class="r" style="left:237.10px;top:298.00px;width:6.00px;height:25.10px;background:#e4662a;border-radius:1px"></div>
<div class="r" style="left:242.00px;top:348.40px;width:1.80px;height:25.10px;background:#7647ea;border-radius:1px"></div>
<div class="r" style="left:251.20px;top:348.40px;width:2.00px;height:25.10px;background:#7647ea;border-radius:1px"></div>
<div class="r" style="left:265.90px;top:272.60px;width:2.30px;height:25.40px;background:#ef9a0c;border-radius:1px"></div>
<div class="r" style="left:270.20px;top:298.00px;width:2.60px;height:25.10px;background:#e4662a;border-radius:1px"></div>
<div class="r" style="left:294.00px;top:348.40px;width:1.60px;height:25.10px;background:#7647ea;border-radius:1px"></div>
<div class="r" style="left:297.00px;top:298.00px;width:2.90px;height:25.10px;background:#e4662a;border-radius:1px"></div>
<div class="r" style="left:299.90px;top:348.40px;width:2.10px;height:25.10px;background:#7647ea;border-radius:1px"></div>
<div class="r" style="left:308.30px;top:348.40px;width:1.70px;height:25.10px;background:#7647ea;border-radius:1px"></div>
<div class="r" style="left:311.20px;top:298.00px;width:2.80px;height:25.10px;background:#e4662a;border-radius:1px"></div>
<div class="r" style="left:314.00px;top:348.40px;width:2.50px;height:25.10px;background:#7647ea;border-radius:1px"></div>
<div class="r" style="left:325.60px;top:298.00px;width:3.20px;height:25.10px;background:#e4662a;border-radius:1px"></div>
<div class="r" style="left:328.80px;top:348.40px;width:2.80px;height:25.10px;background:#7647ea;border-radius:1px"></div>
<div class="r" style="left:333.50px;top:298.00px;width:2.40px;height:25.10px;background:#e4662a;border-radius:1px"></div>
<div class="r" style="left:342.90px;top:348.40px;width:2.40px;height:25.10px;background:#7647ea;border-radius:1px"></div>
<div class="r" style="left:351.40px;top:348.40px;width:2.40px;height:25.10px;background:#7647ea;border-radius:1px"></div>
<div class="r" style="left:18.80px;top:382.60px;width:345.80px;height:1.00px;background:#4a4a4c;"></div>
<div class="r" style="left:364.10px;top:272.60px;width:1.00px;height:110.50px;background:#4a4a4c;"></div>
<div class="r" style="left:358.80px;top:420.60px;width:12.2px;height:12.2px;border-radius:50%;background:#d0d0d0;box-shadow:inset 0 0 0 0.8px #e4e4e4"></div>
<div class="r" style="left:29.30px;top:451.30px;width:3.2px;height:3.2px;border-radius:50%;background:#8b5cf6"></div>
<div class="t" style="left:33.80px;top:446.83px;font-size:9.3px;line-height:9.3px;color:#d8d8d8;letter-spacing:-0.22px;-webkit-text-stroke:0.15px #d8d8d8;">Deep sleep</div>
<div class="r" style="left:121.60px;top:451.30px;width:3.2px;height:3.2px;border-radius:50%;background:#e0157f"></div>
<div class="t" style="left:126.00px;top:446.83px;font-size:9.3px;line-height:9.3px;color:#d8d8d8;letter-spacing:-0.22px;-webkit-text-stroke:0.15px #d8d8d8;">Light sleep</div>
<div class="r" style="left:214.00px;top:451.30px;width:3.2px;height:3.2px;border-radius:50%;background:#ff6a1a"></div>
<div class="t" style="left:218.50px;top:446.83px;font-size:9.3px;line-height:9.3px;color:#d8d8d8;letter-spacing:-0.22px;-webkit-text-stroke:0.15px #d8d8d8;">REM sleep</div>
<div class="r" style="left:313.80px;top:451.30px;width:3.2px;height:3.2px;border-radius:50%;background:#ffa00a"></div>
<div class="t" style="left:318.00px;top:446.83px;font-size:9.3px;line-height:9.3px;color:#d8d8d8;letter-spacing:-0.22px;-webkit-text-stroke:0.15px #d8d8d8;">Awake</div>
<div class="r" style="left:9.90px;top:467.00px;width:126.00px;height:62.70px;background:#202022;border-radius:12px"></div>
<div class="r" style="left:142.90px;top:467.00px;width:126.00px;height:62.70px;background:#202022;border-radius:12px"></div>
<div class="r" style="left:275.60px;top:467.00px;width:126.00px;height:62.70px;background:#202022;border-radius:12px"></div>
<div class="t" style="left:19.60px;top:483.32px;font-size:11.2px;line-height:11.2px;color:#f2f2f2;font-weight:700;letter-spacing:-0.2px;">Record sleep</div>
<div class="t" style="left:19.60px;top:499.72px;font-size:7.3px;line-height:7.3px;color:#9a9a9a;letter-spacing:-0.15px;">Record sleep talking</div>
<div class="t" style="left:19.60px;top:507.92px;font-size:7.3px;line-height:7.3px;color:#9a9a9a;letter-spacing:-0.15px;">and snoring.</div>
<svg class="s" style="left:93.00px;top:483.00px;" width="32" height="32" viewBox="0 0 32 32"><defs><linearGradient id="nb" x1="0" y1="0" x2="0.4" y2="1"><stop offset="0" stop-color="#8a8ef8"/><stop offset="1" stop-color="#b07af2"/></linearGradient><linearGradient id="mn" x1="0" y1="0" x2="1" y2="1"><stop offset="0" stop-color="#cdc4fa"/><stop offset="0.6" stop-color="#b8b4e6"/><stop offset="1" stop-color="#8f9cb4"/></linearGradient><linearGradient id="zz" x1="0" y1="0" x2="0" y2="1"><stop offset="0" stop-color="#9cc4ff"/><stop offset="1" stop-color="#a46cf6"/></linearGradient><mask id="mcut"><rect width="32" height="32" fill="#fff"/><circle cx="26.2" cy="14.6" r="8" fill="#000"/></mask></defs><rect x="2.1" y="2.5" width="19.1" height="23.7" rx="2.2" fill="url(#nb)"/><rect x="5" y="6.4" width="13" height="1.6" rx="0.8" fill="#cdc8ff"/><rect x="5" y="10.4" width="6.3" height="1.6" rx="0.8" fill="#cdc8ff"/><circle cx="20.6" cy="21" r="9.4" fill="url(#mn)" mask="url(#mcut)"/><path d="M23.4 15H27.6L23.4 18.6H27.8" fill="none" stroke="url(#zz)" stroke-width="1.6" stroke-linejoin="bevel"/></svg>
<div class="t" style="left:152.20px;top:485.61px;font-size:11.8px;line-height:11.8px;color:#f2f2f2;font-weight:700;letter-spacing:0px;">Sleep music</div>
<div class="t" style="left:152.20px;top:502.98px;font-size:9.0px;line-height:9.0px;color:#8c8c8c;">Settle your mind.</div>
<svg class="s" style="left:224.00px;top:482.00px;" width="34" height="34" viewBox="0 0 34 34"><defs><linearGradient id="mgl" x1="0.2" y1="0" x2="0.6" y2="1"><stop offset="0" stop-color="#3d7ab4"/><stop offset="0.55" stop-color="#4f5cc0"/><stop offset="1" stop-color="#5a4ac8"/></linearGradient><radialGradient id="mg" cx="0.36" cy="0.66" r="0.32"><stop offset="0" stop-color="#7a5cff" stop-opacity="0.95"/><stop offset="1" stop-color="#6a54e8" stop-opacity="0"/></radialGradient><linearGradient id="nt" x1="0" y1="0" x2="0" y2="1"><stop offset="0" stop-color="#9c9cff"/><stop offset="1" stop-color="#a866f2"/></linearGradient><mask id="mcut2"><rect width="34" height="34" fill="#fff"/><circle cx="26.6" cy="7.4" r="14.4" fill="#000"/></mask></defs><g mask="url(#mcut2)"><circle cx="17" cy="16.5" r="14.8" fill="url(#mgl)" stroke="#9aa8e8" stroke-width="0.6"/><circle cx="17" cy="16.5" r="14.5" fill="url(#mg)"/></g><path d="M14.9 5.6Q14.9 4.6 16 4.3L27.8 2.4Q29 2.3 29 3.4V17h-2.5V6.9L17 9.2V15.5H14.9Z" fill="url(#nt)"/><ellipse cx="23.9" cy="17.1" rx="4.4" ry="3.1" transform="rotate(-15 23.9 17.1)" fill="url(#nt)"/></svg>
<div class="t" style="left:284.70px;top:485.07px;font-size:7.6px;line-height:7.6px;color:#f0f0f0;font-weight:700;letter-spacing:0px;">Breathing exercise</div>
<div class="t" style="left:284.70px;top:497.71px;font-size:7.2px;line-height:7.2px;color:#999999;">Quickly regulate</div>
<div class="t" style="left:284.70px;top:505.51px;font-size:7.2px;line-height:7.2px;color:#999999;">emotions.</div>
<svg class="s" style="left:357.00px;top:481.50px;" width="32" height="33" viewBox="0 0 32 33"><defs><linearGradient id="bg3" x1="0" y1="0" x2="0" y2="1"><stop offset="0" stop-color="#9adcec"/><stop offset="1" stop-color="#9fe2ee"/></linearGradient><radialGradient id="wh" cx="0.75" cy="0.3" r="0.8"><stop offset="0" stop-color="#ffffff"/><stop offset="1" stop-color="#d6f0f8"/></radialGradient></defs><circle cx="16.1" cy="16.5" r="15.3" fill="url(#bg3)" stroke="#c8f4fc" stroke-width="0.6"/><path d="M12.5 1.5C10.5 7 11.5 10.5 14.8 14.6C18.4 19.2 18.2 26 14 31.7A15.3 15.3 0 1 0 12.5 1.5Z" fill="url(#wh)"/></svg>
<div class="r" style="left:10.00px;top:539.60px;width:364.00px;height:157.70px;background:#202022;border-radius:12px"></div>
<svg class="s" style="left:19.20px;top:550.00px;" width="13.2" height="13.2" viewBox="0 0 13.2 13.2"><rect x="0" y="0" width="13.2" height="13.2" rx="3" fill="#7a4cf4"/><g transform="translate(6.5 7.0) scale(0.86)"><path d="M0 -4.3L1.15 -1.5L4.2 -1.35L1.85 0.6L2.65 3.55L0 1.9L-2.65 3.55L-1.85 0.6L-4.2 -1.35L-1.15 -1.5Z" fill="#fff" stroke="#fff" stroke-width="1.0" stroke-linejoin="round"/><circle cx="0" cy="0.5" r="0.9" fill="#7a4cf4"/></g></svg>
<div class="t" style="left:38.40px;top:551.88px;font-size:10.3px;line-height:10.3px;color:#e6e6e6;letter-spacing:-0.12px;-webkit-text-stroke:0.15px #e6e6e6;">Sleep score</div>
<svg class="s" style="left:18.10px;top:575.40px;" width="66" height="66" viewBox="0 0 66 66"><path d="M6.50 43.49A28.5 28.5 0 0 1 33.00 4.50" fill="none" stroke="#3d1ba6" stroke-width="6.4"/><path d="M34.49 4.54A28.5 28.5 0 1 1 6.88 44.41" fill="none" stroke="#6a2df4" stroke-width="6.4" stroke-linecap="round"/></svg>
<div class="t" style="left:26.10px;width:50px;text-align:center;top:599.69px;font-size:19.5px;line-height:19.5px;color:#bd9cff;">69</div>
<div class="t" style="left:95.80px;top:587.83px;font-size:12.6px;line-height:12.6px;color:#8c5cf7;letter-spacing:0.0px;-webkit-text-stroke:0.3px #8c5cf7;">To be improved</div>
<div class="t" style="left:95.80px;top:606.72px;font-size:11.2px;line-height:11.2px;color:#f2f2f2;letter-spacing:-0.1px;-webkit-text-stroke:0.35px #f2f2f2;">Sleep quality was not bad, but you had insufficient</div>
<div class="t" style="left:95.80px;top:619.82px;font-size:11.2px;line-height:11.2px;color:#f2f2f2;letter-spacing:-0.1px;-webkit-text-stroke:0.35px #f2f2f2;">sleep and irregular sleep schedule.</div>
<div class="t" style="left:19.40px;top:652.01px;font-size:9.2px;line-height:9.2px;color:#c8c8c8;letter-spacing:0.19px;-webkit-text-stroke:0.2px #c8c8c8;">Irregular sleep schedules can disrupt your body's natural rhythm and affect</div>
<div class="t" style="left:19.40px;top:663.25px;font-size:9.2px;line-height:9.2px;color:#c8c8c8;letter-spacing:0.19px;-webkit-text-stroke:0.2px #c8c8c8;">sleep quality. Set a daily reminder to keep your bed and wake-up time</div>
<div class="t" style="left:19.40px;top:674.49px;font-size:9.2px;line-height:9.2px;color:#c8c8c8;letter-spacing:0.19px;-webkit-text-stroke:0.2px #c8c8c8;">consistent.</div>
<div class="r" style="left:10.00px;top:707.80px;width:364.00px;height:120.00px;background:#202022;border-radius:12px"></div>
<svg class="s" style="left:19.20px;top:718.10px;" width="13.2" height="13.2" viewBox="0 0 13.2 13.2"><rect x="0" y="0" width="13.2" height="13.2" rx="3" fill="#7a4cf4"/><path d="M6.6 2.6A4.1 4.1 0 1 0 10.7 6.7H6.6Z" fill="#fff"/><path d="M7.4 1.9A4.1 4.1 0 0 1 11.4 5.9H7.4Z" fill="#fff"/></svg>
<div class="t" style="left:38.30px;top:719.68px;font-size:10.3px;line-height:10.3px;color:#e6e6e6;letter-spacing:-0.12px;-webkit-text-stroke:0.15px #e6e6e6;">Sleep analysis</div>
<svg class="s" style="left:17.90px;top:749.40px;" width="66" height="66" viewBox="0 0 66 66"><path d="M34.96 4.97A28.1 28.1 0 0 1 56.30 17.29" fill="none" stroke="#7b4cf0" stroke-width="7"/><path d="M56.30 17.29A28.1 28.1 0 1 1 11.47 14.94" fill="none" stroke="#c0006b" stroke-width="7"/><path d="M11.47 14.94A28.1 28.1 0 0 1 34.96 4.97" fill="none" stroke="#e6672a" stroke-width="7"/><circle cx="55.29" cy="15.89" r="3.5" fill="#7b4cf0"/><circle cx="10.41" cy="16.29" r="3.5" fill="#c0006b"/><circle cx="33.25" cy="4.90" r="3.5" fill="#e6672a"/></svg>
<div class="r" style="left:101.40px;top:761.10px;width:4.6px;height:4.6px;border-radius:50%;background:#8b5cf6"></div>
<div class="t" style="left:112.50px;top:759.76px;font-size:9.5px;line-height:9.5px;color:#c8c8c8;letter-spacing:-0.12px;-webkit-text-stroke:0.15px #c8c8c8;">Deep sleep</div>
<div class="t" style="left:235.30px;top:759.42px;font-size:9.9px;line-height:9.9px;color:#ececec;letter-spacing:-0.1px;">59 min</div>
<div class="r" style="left:101.40px;top:780.50px;width:4.6px;height:4.6px;border-radius:50%;background:#d4137a"></div>
<div class="t" style="left:112.50px;top:779.16px;font-size:9.5px;line-height:9.5px;color:#c8c8c8;letter-spacing:-0.12px;-webkit-text-stroke:0.15px #c8c8c8;">Light sleep</div>
<div class="t" style="left:235.30px;top:778.82px;font-size:9.9px;line-height:9.9px;color:#ececec;letter-spacing:-0.1px;">4 h 50 min</div>
<div class="r" style="left:101.40px;top:799.90px;width:4.6px;height:4.6px;border-radius:50%;background:#f26a22"></div>
<div class="t" style="left:112.50px;top:798.56px;font-size:9.5px;line-height:9.5px;color:#c8c8c8;letter-spacing:-0.12px;-webkit-text-stroke:0.15px #c8c8c8;">REM sleep</div>
<div class="t" style="left:235.30px;top:798.22px;font-size:9.9px;line-height:9.9px;color:#ececec;letter-spacing:-0.1px;">1 h 1 min</div>
<div class="r" style="left:0.00px;top:810.60px;width:383.00px;height:19.40px;background:#000;"></div>
<div class="r" style="left:149.30px;top:819.40px;width:85.00px;height:2.90px;background:#f4f4f4;border-radius:1.5px"></div>
</div>
</body></html>
